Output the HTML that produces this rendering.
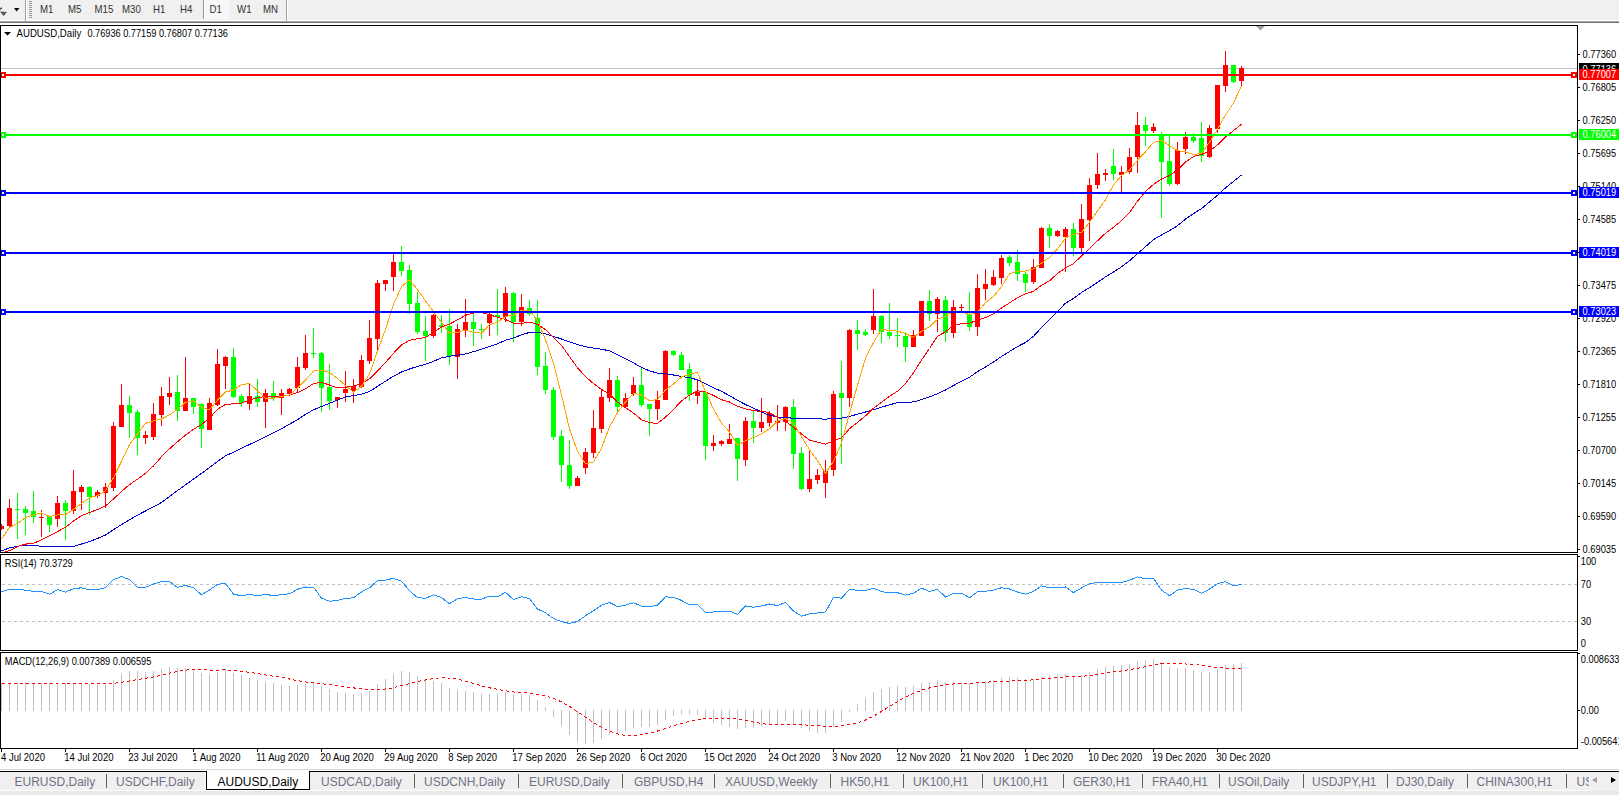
<!DOCTYPE html>
<html><head><meta charset="utf-8"><style>
html,body{margin:0;padding:0;background:#fff;width:1619px;height:795px;overflow:hidden}
svg{display:block}
text{font-family:"Liberation Sans",sans-serif}
</style></head><body>
<svg width="1619" height="795" viewBox="0 0 1619 795">
<rect x="0" y="0" width="1619" height="795" fill="#fff"/>
<rect x="0" y="0" width="1619" height="21" fill="#f0f0f0"/>
<rect x="0" y="21" width="1619" height="1" fill="#a8a8a8"/>
<rect x="0" y="22" width="1619" height="1" fill="#707070"/>
<rect x="0" y="23" width="1619" height="2" fill="#ffffff"/>
<path d="M0 8.5 L1.5 7 L2 8.5 L0.5 10Z" fill="#333"/>
<path d="M0 11.5 L7 12 L3.5 16Z" fill="#555"/>
<path d="M14 8 L19.5 8 L16.5 11.5Z" fill="#000"/>
<rect x="0" y="20" width="1619" height="1" fill="#ffffff"/>
<rect x="25" y="0" width="1" height="21" fill="#a0a0a0"/>
<rect x="26" y="0" width="1" height="21" fill="#ffffff"/>
<rect x="29" y="1" width="3" height="1" fill="#9a9a9a"/>
<rect x="29" y="3" width="3" height="1" fill="#9a9a9a"/>
<rect x="29" y="5" width="3" height="1" fill="#9a9a9a"/>
<rect x="29" y="7" width="3" height="1" fill="#9a9a9a"/>
<rect x="29" y="9" width="3" height="1" fill="#9a9a9a"/>
<rect x="29" y="11" width="3" height="1" fill="#9a9a9a"/>
<rect x="29" y="13" width="3" height="1" fill="#9a9a9a"/>
<rect x="29" y="15" width="3" height="1" fill="#9a9a9a"/>
<rect x="29" y="17" width="3" height="1" fill="#9a9a9a"/>
<rect x="203" y="0" width="26" height="19" fill="#f8f8f8"/>
<rect x="203" y="0" width="1" height="19" fill="#999999"/>
<rect x="286" y="0" width="1" height="21" fill="#a0a0a0"/>
<rect x="287" y="0" width="1" height="21" fill="#ffffff"/>
<text transform="translate(40,13) scale(0.94,1)" font-size="10.3" fill="#333" font-weight="normal" text-anchor="start">M1</text>
<text transform="translate(68,13) scale(0.94,1)" font-size="10.3" fill="#333" font-weight="normal" text-anchor="start">M5</text>
<text transform="translate(94.5,13) scale(0.94,1)" font-size="10.3" fill="#333" font-weight="normal" text-anchor="start">M15</text>
<text transform="translate(122,13) scale(0.94,1)" font-size="10.3" fill="#333" font-weight="normal" text-anchor="start">M30</text>
<text transform="translate(153,13) scale(0.94,1)" font-size="10.3" fill="#333" font-weight="normal" text-anchor="start">H1</text>
<text transform="translate(180,13) scale(0.94,1)" font-size="10.3" fill="#333" font-weight="normal" text-anchor="start">H4</text>
<text transform="translate(209.5,13) scale(0.94,1)" font-size="10.3" fill="#333" font-weight="normal" text-anchor="start">D1</text>
<text transform="translate(237,13) scale(0.94,1)" font-size="10.3" fill="#333" font-weight="normal" text-anchor="start">W1</text>
<text transform="translate(263,13) scale(0.94,1)" font-size="10.3" fill="#333" font-weight="normal" text-anchor="start">MN</text>
<rect x="0" y="25" width="1578" height="1" fill="#000"/>
<rect x="0" y="25" width="1" height="528" fill="#000"/>
<rect x="1577" y="25" width="1" height="528" fill="#000"/>
<rect x="0" y="552" width="1578" height="1" fill="#000"/>
<rect x="0" y="554" width="1578" height="1" fill="#000"/>
<rect x="0" y="554" width="1" height="97" fill="#000"/>
<rect x="1577" y="554" width="1" height="97" fill="#000"/>
<rect x="0" y="650" width="1578" height="1" fill="#000"/>
<rect x="0" y="652" width="1578" height="1" fill="#000"/>
<rect x="0" y="652" width="1" height="97" fill="#000"/>
<rect x="1577" y="652" width="1" height="97" fill="#000"/>
<rect x="0" y="748" width="1578" height="1" fill="#000"/>
<path d="M1256 26 L1265 26 L1260.5 30.5Z" fill="#a0a0a0"/>
<path d="M4 32 L11 32 L7.5 35.5Z" fill="#000"/>
<text transform="translate(16.5,37) scale(0.935,1)" font-size="10.3" fill="#000" font-weight="normal" text-anchor="start">AUDUSD,Daily</text>
<text transform="translate(87.4,37) scale(0.894,1)" font-size="10.3" fill="#000" font-weight="normal" text-anchor="start">0.76936 0.77159 0.76807 0.77136</text>
<rect x="1578" y="54" width="2" height="1" fill="#000"/>
<text transform="translate(1582.6,58) scale(0.91,1)" font-size="10.2" fill="#000" font-weight="normal" text-anchor="start">0.77360</text>
<rect x="1578" y="87" width="2" height="1" fill="#000"/>
<text transform="translate(1582.6,91) scale(0.91,1)" font-size="10.2" fill="#000" font-weight="normal" text-anchor="start">0.76805</text>
<rect x="1578" y="120" width="2" height="1" fill="#000"/>
<text transform="translate(1582.6,124) scale(0.91,1)" font-size="10.2" fill="#000" font-weight="normal" text-anchor="start">0.76250</text>
<rect x="1578" y="153" width="2" height="1" fill="#000"/>
<text transform="translate(1582.6,157) scale(0.91,1)" font-size="10.2" fill="#000" font-weight="normal" text-anchor="start">0.75695</text>
<rect x="1578" y="186" width="2" height="1" fill="#000"/>
<text transform="translate(1582.6,190) scale(0.91,1)" font-size="10.2" fill="#000" font-weight="normal" text-anchor="start">0.75140</text>
<rect x="1578" y="219" width="2" height="1" fill="#000"/>
<text transform="translate(1582.6,223) scale(0.91,1)" font-size="10.2" fill="#000" font-weight="normal" text-anchor="start">0.74585</text>
<rect x="1578" y="252" width="2" height="1" fill="#000"/>
<text transform="translate(1582.6,256) scale(0.91,1)" font-size="10.2" fill="#000" font-weight="normal" text-anchor="start">0.74030</text>
<rect x="1578" y="285" width="2" height="1" fill="#000"/>
<text transform="translate(1582.6,289) scale(0.91,1)" font-size="10.2" fill="#000" font-weight="normal" text-anchor="start">0.73475</text>
<rect x="1578" y="318" width="2" height="1" fill="#000"/>
<text transform="translate(1582.6,322) scale(0.91,1)" font-size="10.2" fill="#000" font-weight="normal" text-anchor="start">0.72920</text>
<rect x="1578" y="351" width="2" height="1" fill="#000"/>
<text transform="translate(1582.6,355) scale(0.91,1)" font-size="10.2" fill="#000" font-weight="normal" text-anchor="start">0.72365</text>
<rect x="1578" y="384" width="2" height="1" fill="#000"/>
<text transform="translate(1582.6,388) scale(0.91,1)" font-size="10.2" fill="#000" font-weight="normal" text-anchor="start">0.71810</text>
<rect x="1578" y="417" width="2" height="1" fill="#000"/>
<text transform="translate(1582.6,421) scale(0.91,1)" font-size="10.2" fill="#000" font-weight="normal" text-anchor="start">0.71255</text>
<rect x="1578" y="450" width="2" height="1" fill="#000"/>
<text transform="translate(1582.6,454) scale(0.91,1)" font-size="10.2" fill="#000" font-weight="normal" text-anchor="start">0.70700</text>
<rect x="1578" y="483" width="2" height="1" fill="#000"/>
<text transform="translate(1582.6,487) scale(0.91,1)" font-size="10.2" fill="#000" font-weight="normal" text-anchor="start">0.70145</text>
<rect x="1578" y="516" width="2" height="1" fill="#000"/>
<text transform="translate(1582.6,520) scale(0.91,1)" font-size="10.2" fill="#000" font-weight="normal" text-anchor="start">0.69590</text>
<rect x="1578" y="549" width="2" height="1" fill="#000"/>
<text transform="translate(1582.6,553) scale(0.91,1)" font-size="10.2" fill="#000" font-weight="normal" text-anchor="start">0.69035</text>
<defs><clipPath id="cm"><rect x="1" y="26" width="1576" height="526"/></clipPath><clipPath id="cr"><rect x="1" y="555" width="1576" height="95"/></clipPath><clipPath id="cd"><rect x="1" y="653" width="1576" height="95"/></clipPath></defs>
<g clip-path="url(#cm)" shape-rendering="crispEdges">
<rect x="1" y="68" width="1576" height="1" fill="#c0c0c0"/>
</g><g clip-path="url(#cm)" shape-rendering="crispEdges">
<rect x="1" y="524" width="1" height="6" fill="#ff0000"/>
<rect x="-1" y="526" width="5" height="3" fill="#ff0000"/>
<rect x="9" y="499" width="1" height="29" fill="#ff0000"/>
<rect x="7" y="508" width="5" height="18" fill="#ff0000"/>
<rect x="17" y="493" width="1" height="46" fill="#00ff00"/>
<rect x="15" y="509" width="5" height="1" fill="#00ff00"/>
<rect x="25" y="506" width="1" height="29" fill="#00ff00"/>
<rect x="23" y="509" width="5" height="4" fill="#00ff00"/>
<rect x="33" y="491" width="1" height="32" fill="#00ff00"/>
<rect x="31" y="511" width="5" height="6" fill="#00ff00"/>
<rect x="41" y="510" width="1" height="27" fill="#ff0000"/>
<rect x="39" y="517" width="5" height="1" fill="#ff0000"/>
<rect x="49" y="516" width="1" height="16" fill="#00ff00"/>
<rect x="47" y="516" width="5" height="9" fill="#00ff00"/>
<rect x="57" y="496" width="1" height="31" fill="#ff0000"/>
<rect x="55" y="503" width="5" height="16" fill="#ff0000"/>
<rect x="65" y="500" width="1" height="40" fill="#00ff00"/>
<rect x="63" y="503" width="5" height="8" fill="#00ff00"/>
<rect x="73" y="470" width="1" height="44" fill="#ff0000"/>
<rect x="71" y="491" width="5" height="20" fill="#ff0000"/>
<rect x="81" y="485" width="1" height="25" fill="#ff0000"/>
<rect x="79" y="487" width="5" height="5" fill="#ff0000"/>
<rect x="89" y="486" width="1" height="29" fill="#00ff00"/>
<rect x="87" y="487" width="5" height="10" fill="#00ff00"/>
<rect x="97" y="490" width="1" height="8" fill="#ff0000"/>
<rect x="95" y="492" width="5" height="4" fill="#ff0000"/>
<rect x="105" y="483" width="1" height="25" fill="#ff0000"/>
<rect x="103" y="487" width="5" height="6" fill="#ff0000"/>
<rect x="113" y="422" width="1" height="69" fill="#ff0000"/>
<rect x="111" y="426" width="5" height="62" fill="#ff0000"/>
<rect x="121" y="384" width="1" height="43" fill="#ff0000"/>
<rect x="119" y="405" width="5" height="22" fill="#ff0000"/>
<rect x="129" y="396" width="1" height="42" fill="#00ff00"/>
<rect x="127" y="405" width="5" height="8" fill="#00ff00"/>
<rect x="137" y="410" width="1" height="45" fill="#00ff00"/>
<rect x="135" y="412" width="5" height="26" fill="#00ff00"/>
<rect x="145" y="431" width="1" height="13" fill="#ff0000"/>
<rect x="143" y="435" width="5" height="3" fill="#ff0000"/>
<rect x="153" y="403" width="1" height="37" fill="#ff0000"/>
<rect x="151" y="414" width="5" height="23" fill="#ff0000"/>
<rect x="161" y="387" width="1" height="39" fill="#ff0000"/>
<rect x="159" y="396" width="5" height="19" fill="#ff0000"/>
<rect x="169" y="377" width="1" height="28" fill="#ff0000"/>
<rect x="167" y="393" width="5" height="4" fill="#ff0000"/>
<rect x="177" y="375" width="1" height="46" fill="#00ff00"/>
<rect x="175" y="392" width="5" height="19" fill="#00ff00"/>
<rect x="185" y="357" width="1" height="54" fill="#ff0000"/>
<rect x="183" y="398" width="5" height="13" fill="#ff0000"/>
<rect x="193" y="398" width="1" height="16" fill="#00ff00"/>
<rect x="191" y="398" width="5" height="9" fill="#00ff00"/>
<rect x="201" y="403" width="1" height="45" fill="#00ff00"/>
<rect x="199" y="404" width="5" height="25" fill="#00ff00"/>
<rect x="209" y="398" width="1" height="32" fill="#ff0000"/>
<rect x="207" y="403" width="5" height="27" fill="#ff0000"/>
<rect x="217" y="349" width="1" height="57" fill="#ff0000"/>
<rect x="215" y="364" width="5" height="41" fill="#ff0000"/>
<rect x="225" y="356" width="1" height="33" fill="#ff0000"/>
<rect x="223" y="357" width="5" height="9" fill="#ff0000"/>
<rect x="233" y="348" width="1" height="50" fill="#00ff00"/>
<rect x="231" y="357" width="5" height="40" fill="#00ff00"/>
<rect x="241" y="394" width="1" height="13" fill="#00ff00"/>
<rect x="239" y="396" width="5" height="7" fill="#00ff00"/>
<rect x="249" y="383" width="1" height="27" fill="#ff0000"/>
<rect x="247" y="396" width="5" height="8" fill="#ff0000"/>
<rect x="257" y="379" width="1" height="28" fill="#00ff00"/>
<rect x="255" y="396" width="5" height="6" fill="#00ff00"/>
<rect x="265" y="389" width="1" height="39" fill="#ff0000"/>
<rect x="263" y="393" width="5" height="9" fill="#ff0000"/>
<rect x="273" y="381" width="1" height="20" fill="#00ff00"/>
<rect x="271" y="393" width="5" height="5" fill="#00ff00"/>
<rect x="281" y="389" width="1" height="26" fill="#ff0000"/>
<rect x="279" y="393" width="5" height="5" fill="#ff0000"/>
<rect x="289" y="388" width="1" height="8" fill="#ff0000"/>
<rect x="287" y="389" width="5" height="5" fill="#ff0000"/>
<rect x="297" y="357" width="1" height="35" fill="#ff0000"/>
<rect x="295" y="367" width="5" height="21" fill="#ff0000"/>
<rect x="305" y="335" width="1" height="35" fill="#ff0000"/>
<rect x="303" y="353" width="5" height="15" fill="#ff0000"/>
<rect x="313" y="328" width="1" height="30" fill="#00ff00"/>
<rect x="311" y="353" width="5" height="1" fill="#00ff00"/>
<rect x="321" y="352" width="1" height="60" fill="#00ff00"/>
<rect x="319" y="353" width="5" height="35" fill="#00ff00"/>
<rect x="329" y="364" width="1" height="46" fill="#00ff00"/>
<rect x="327" y="387" width="5" height="14" fill="#00ff00"/>
<rect x="337" y="397" width="1" height="11" fill="#ff0000"/>
<rect x="335" y="397" width="5" height="3" fill="#ff0000"/>
<rect x="345" y="371" width="1" height="31" fill="#ff0000"/>
<rect x="343" y="389" width="5" height="4" fill="#ff0000"/>
<rect x="353" y="379" width="1" height="24" fill="#ff0000"/>
<rect x="351" y="386" width="5" height="5" fill="#ff0000"/>
<rect x="361" y="355" width="1" height="33" fill="#ff0000"/>
<rect x="359" y="360" width="5" height="27" fill="#ff0000"/>
<rect x="369" y="320" width="1" height="44" fill="#ff0000"/>
<rect x="367" y="338" width="5" height="23" fill="#ff0000"/>
<rect x="377" y="280" width="1" height="70" fill="#ff0000"/>
<rect x="375" y="283" width="5" height="56" fill="#ff0000"/>
<rect x="385" y="280" width="1" height="11" fill="#ff0000"/>
<rect x="383" y="280" width="5" height="4" fill="#ff0000"/>
<rect x="393" y="254" width="1" height="37" fill="#ff0000"/>
<rect x="391" y="262" width="5" height="15" fill="#ff0000"/>
<rect x="401" y="246" width="1" height="30" fill="#00ff00"/>
<rect x="399" y="262" width="5" height="9" fill="#00ff00"/>
<rect x="409" y="265" width="1" height="49" fill="#00ff00"/>
<rect x="407" y="270" width="5" height="34" fill="#00ff00"/>
<rect x="417" y="292" width="1" height="42" fill="#00ff00"/>
<rect x="415" y="303" width="5" height="29" fill="#00ff00"/>
<rect x="425" y="316" width="1" height="45" fill="#00ff00"/>
<rect x="423" y="331" width="5" height="5" fill="#00ff00"/>
<rect x="433" y="314" width="1" height="24" fill="#ff0000"/>
<rect x="431" y="315" width="5" height="21" fill="#ff0000"/>
<rect x="441" y="315" width="1" height="18" fill="#00ff00"/>
<rect x="439" y="325" width="5" height="2" fill="#00ff00"/>
<rect x="449" y="309" width="1" height="56" fill="#00ff00"/>
<rect x="447" y="326" width="5" height="30" fill="#00ff00"/>
<rect x="457" y="324" width="1" height="55" fill="#ff0000"/>
<rect x="455" y="329" width="5" height="28" fill="#ff0000"/>
<rect x="465" y="299" width="1" height="38" fill="#ff0000"/>
<rect x="463" y="322" width="5" height="8" fill="#ff0000"/>
<rect x="473" y="314" width="1" height="32" fill="#00ff00"/>
<rect x="471" y="322" width="5" height="7" fill="#00ff00"/>
<rect x="481" y="324" width="1" height="15" fill="#00ff00"/>
<rect x="479" y="329" width="5" height="1" fill="#00ff00"/>
<rect x="489" y="312" width="1" height="24" fill="#ff0000"/>
<rect x="487" y="314" width="5" height="9" fill="#ff0000"/>
<rect x="497" y="289" width="1" height="46" fill="#00ff00"/>
<rect x="495" y="315" width="5" height="2" fill="#00ff00"/>
<rect x="505" y="287" width="1" height="35" fill="#ff0000"/>
<rect x="503" y="293" width="5" height="24" fill="#ff0000"/>
<rect x="513" y="292" width="1" height="50" fill="#00ff00"/>
<rect x="511" y="293" width="5" height="29" fill="#00ff00"/>
<rect x="521" y="294" width="1" height="32" fill="#ff0000"/>
<rect x="519" y="307" width="5" height="15" fill="#ff0000"/>
<rect x="529" y="300" width="1" height="16" fill="#00ff00"/>
<rect x="527" y="308" width="5" height="6" fill="#00ff00"/>
<rect x="537" y="300" width="1" height="75" fill="#00ff00"/>
<rect x="535" y="318" width="5" height="49" fill="#00ff00"/>
<rect x="545" y="352" width="1" height="42" fill="#00ff00"/>
<rect x="543" y="366" width="5" height="24" fill="#00ff00"/>
<rect x="553" y="387" width="1" height="53" fill="#00ff00"/>
<rect x="551" y="390" width="5" height="47" fill="#00ff00"/>
<rect x="561" y="430" width="1" height="52" fill="#00ff00"/>
<rect x="559" y="436" width="5" height="29" fill="#00ff00"/>
<rect x="569" y="440" width="1" height="49" fill="#00ff00"/>
<rect x="567" y="465" width="5" height="21" fill="#00ff00"/>
<rect x="577" y="476" width="1" height="10" fill="#ff0000"/>
<rect x="575" y="478" width="5" height="8" fill="#ff0000"/>
<rect x="585" y="448" width="1" height="26" fill="#ff0000"/>
<rect x="583" y="452" width="5" height="16" fill="#ff0000"/>
<rect x="593" y="410" width="1" height="48" fill="#ff0000"/>
<rect x="591" y="428" width="5" height="25" fill="#ff0000"/>
<rect x="601" y="390" width="1" height="43" fill="#ff0000"/>
<rect x="599" y="397" width="5" height="32" fill="#ff0000"/>
<rect x="609" y="368" width="1" height="34" fill="#ff0000"/>
<rect x="607" y="380" width="5" height="18" fill="#ff0000"/>
<rect x="617" y="376" width="1" height="38" fill="#00ff00"/>
<rect x="615" y="380" width="5" height="27" fill="#00ff00"/>
<rect x="625" y="393" width="1" height="14" fill="#ff0000"/>
<rect x="623" y="398" width="5" height="9" fill="#ff0000"/>
<rect x="633" y="377" width="1" height="19" fill="#ff0000"/>
<rect x="631" y="385" width="5" height="9" fill="#ff0000"/>
<rect x="641" y="367" width="1" height="40" fill="#00ff00"/>
<rect x="639" y="385" width="5" height="20" fill="#00ff00"/>
<rect x="649" y="404" width="1" height="32" fill="#00ff00"/>
<rect x="647" y="404" width="5" height="5" fill="#00ff00"/>
<rect x="657" y="391" width="1" height="29" fill="#ff0000"/>
<rect x="655" y="400" width="5" height="9" fill="#ff0000"/>
<rect x="665" y="350" width="1" height="50" fill="#ff0000"/>
<rect x="663" y="351" width="5" height="49" fill="#ff0000"/>
<rect x="673" y="350" width="1" height="6" fill="#00ff00"/>
<rect x="671" y="351" width="5" height="4" fill="#00ff00"/>
<rect x="681" y="352" width="1" height="18" fill="#00ff00"/>
<rect x="679" y="355" width="5" height="15" fill="#00ff00"/>
<rect x="689" y="363" width="1" height="38" fill="#00ff00"/>
<rect x="687" y="369" width="5" height="26" fill="#00ff00"/>
<rect x="697" y="380" width="1" height="24" fill="#ff0000"/>
<rect x="695" y="392" width="5" height="4" fill="#ff0000"/>
<rect x="705" y="390" width="1" height="70" fill="#00ff00"/>
<rect x="703" y="392" width="5" height="54" fill="#00ff00"/>
<rect x="713" y="435" width="1" height="16" fill="#ff0000"/>
<rect x="711" y="443" width="5" height="3" fill="#ff0000"/>
<rect x="721" y="440" width="1" height="6" fill="#ff0000"/>
<rect x="719" y="441" width="5" height="3" fill="#ff0000"/>
<rect x="729" y="424" width="1" height="20" fill="#ff0000"/>
<rect x="727" y="439" width="5" height="5" fill="#ff0000"/>
<rect x="737" y="438" width="1" height="43" fill="#00ff00"/>
<rect x="735" y="438" width="5" height="21" fill="#00ff00"/>
<rect x="745" y="417" width="1" height="49" fill="#ff0000"/>
<rect x="743" y="421" width="5" height="39" fill="#ff0000"/>
<rect x="753" y="411" width="1" height="32" fill="#00ff00"/>
<rect x="751" y="421" width="5" height="7" fill="#00ff00"/>
<rect x="761" y="398" width="1" height="34" fill="#ff0000"/>
<rect x="759" y="422" width="5" height="6" fill="#ff0000"/>
<rect x="769" y="411" width="1" height="16" fill="#ff0000"/>
<rect x="767" y="413" width="5" height="10" fill="#ff0000"/>
<rect x="777" y="405" width="1" height="26" fill="#ff0000"/>
<rect x="775" y="421" width="5" height="2" fill="#ff0000"/>
<rect x="785" y="406" width="1" height="25" fill="#ff0000"/>
<rect x="783" y="407" width="5" height="15" fill="#ff0000"/>
<rect x="793" y="399" width="1" height="70" fill="#00ff00"/>
<rect x="791" y="407" width="5" height="47" fill="#00ff00"/>
<rect x="801" y="447" width="1" height="43" fill="#00ff00"/>
<rect x="799" y="453" width="5" height="36" fill="#00ff00"/>
<rect x="809" y="450" width="1" height="42" fill="#ff0000"/>
<rect x="807" y="479" width="5" height="10" fill="#ff0000"/>
<rect x="817" y="469" width="1" height="15" fill="#ff0000"/>
<rect x="815" y="475" width="5" height="5" fill="#ff0000"/>
<rect x="825" y="460" width="1" height="38" fill="#ff0000"/>
<rect x="823" y="471" width="5" height="12" fill="#ff0000"/>
<rect x="833" y="391" width="1" height="85" fill="#ff0000"/>
<rect x="831" y="394" width="5" height="76" fill="#ff0000"/>
<rect x="841" y="361" width="1" height="103" fill="#00ff00"/>
<rect x="839" y="393" width="5" height="5" fill="#00ff00"/>
<rect x="849" y="329" width="1" height="78" fill="#ff0000"/>
<rect x="847" y="330" width="5" height="68" fill="#ff0000"/>
<rect x="857" y="320" width="1" height="30" fill="#00ff00"/>
<rect x="855" y="330" width="5" height="4" fill="#00ff00"/>
<rect x="865" y="329" width="1" height="7" fill="#00ff00"/>
<rect x="863" y="332" width="5" height="3" fill="#00ff00"/>
<rect x="873" y="289" width="1" height="45" fill="#ff0000"/>
<rect x="871" y="316" width="5" height="14" fill="#ff0000"/>
<rect x="881" y="315" width="1" height="28" fill="#00ff00"/>
<rect x="879" y="316" width="5" height="16" fill="#00ff00"/>
<rect x="889" y="303" width="1" height="36" fill="#00ff00"/>
<rect x="887" y="332" width="5" height="4" fill="#00ff00"/>
<rect x="897" y="318" width="1" height="29" fill="#00ff00"/>
<rect x="895" y="335" width="5" height="1" fill="#00ff00"/>
<rect x="905" y="332" width="1" height="30" fill="#00ff00"/>
<rect x="903" y="336" width="5" height="11" fill="#00ff00"/>
<rect x="913" y="330" width="1" height="16" fill="#ff0000"/>
<rect x="911" y="335" width="5" height="12" fill="#ff0000"/>
<rect x="921" y="301" width="1" height="35" fill="#ff0000"/>
<rect x="919" y="301" width="5" height="35" fill="#ff0000"/>
<rect x="929" y="290" width="1" height="31" fill="#00ff00"/>
<rect x="927" y="301" width="5" height="13" fill="#00ff00"/>
<rect x="937" y="297" width="1" height="35" fill="#ff0000"/>
<rect x="935" y="299" width="5" height="15" fill="#ff0000"/>
<rect x="945" y="296" width="1" height="46" fill="#00ff00"/>
<rect x="943" y="300" width="5" height="33" fill="#00ff00"/>
<rect x="953" y="300" width="1" height="38" fill="#ff0000"/>
<rect x="951" y="307" width="5" height="26" fill="#ff0000"/>
<rect x="961" y="304" width="1" height="7" fill="#ff0000"/>
<rect x="959" y="307" width="5" height="1" fill="#ff0000"/>
<rect x="969" y="292" width="1" height="39" fill="#00ff00"/>
<rect x="967" y="314" width="5" height="13" fill="#00ff00"/>
<rect x="977" y="274" width="1" height="62" fill="#ff0000"/>
<rect x="975" y="288" width="5" height="39" fill="#ff0000"/>
<rect x="985" y="269" width="1" height="31" fill="#ff0000"/>
<rect x="983" y="284" width="5" height="5" fill="#ff0000"/>
<rect x="993" y="270" width="1" height="16" fill="#ff0000"/>
<rect x="991" y="277" width="5" height="8" fill="#ff0000"/>
<rect x="1001" y="255" width="1" height="29" fill="#ff0000"/>
<rect x="999" y="258" width="5" height="20" fill="#ff0000"/>
<rect x="1009" y="255" width="1" height="11" fill="#00ff00"/>
<rect x="1007" y="257" width="5" height="6" fill="#00ff00"/>
<rect x="1017" y="250" width="1" height="31" fill="#00ff00"/>
<rect x="1015" y="262" width="5" height="12" fill="#00ff00"/>
<rect x="1025" y="272" width="1" height="20" fill="#00ff00"/>
<rect x="1023" y="274" width="5" height="9" fill="#00ff00"/>
<rect x="1033" y="259" width="1" height="25" fill="#ff0000"/>
<rect x="1031" y="267" width="5" height="15" fill="#ff0000"/>
<rect x="1041" y="227" width="1" height="40" fill="#ff0000"/>
<rect x="1039" y="228" width="5" height="40" fill="#ff0000"/>
<rect x="1049" y="224" width="1" height="24" fill="#00ff00"/>
<rect x="1047" y="228" width="5" height="8" fill="#00ff00"/>
<rect x="1057" y="230" width="1" height="7" fill="#ff0000"/>
<rect x="1055" y="231" width="5" height="5" fill="#ff0000"/>
<rect x="1065" y="227" width="1" height="45" fill="#ff0000"/>
<rect x="1063" y="229" width="5" height="8" fill="#ff0000"/>
<rect x="1073" y="223" width="1" height="33" fill="#00ff00"/>
<rect x="1071" y="229" width="5" height="19" fill="#00ff00"/>
<rect x="1081" y="204" width="1" height="48" fill="#ff0000"/>
<rect x="1079" y="219" width="5" height="29" fill="#ff0000"/>
<rect x="1089" y="178" width="1" height="63" fill="#ff0000"/>
<rect x="1087" y="185" width="5" height="35" fill="#ff0000"/>
<rect x="1097" y="153" width="1" height="36" fill="#ff0000"/>
<rect x="1095" y="174" width="5" height="11" fill="#ff0000"/>
<rect x="1105" y="169" width="1" height="12" fill="#ff0000"/>
<rect x="1103" y="173" width="5" height="2" fill="#ff0000"/>
<rect x="1113" y="149" width="1" height="31" fill="#00ff00"/>
<rect x="1111" y="166" width="5" height="8" fill="#00ff00"/>
<rect x="1121" y="166" width="1" height="26" fill="#ff0000"/>
<rect x="1119" y="172" width="5" height="3" fill="#ff0000"/>
<rect x="1129" y="148" width="1" height="26" fill="#ff0000"/>
<rect x="1127" y="157" width="5" height="15" fill="#ff0000"/>
<rect x="1137" y="112" width="1" height="61" fill="#ff0000"/>
<rect x="1135" y="125" width="5" height="32" fill="#ff0000"/>
<rect x="1145" y="117" width="1" height="29" fill="#00ff00"/>
<rect x="1143" y="125" width="5" height="6" fill="#00ff00"/>
<rect x="1153" y="123" width="1" height="10" fill="#ff0000"/>
<rect x="1151" y="127" width="5" height="4" fill="#ff0000"/>
<rect x="1161" y="132" width="1" height="86" fill="#00ff00"/>
<rect x="1159" y="136" width="5" height="26" fill="#00ff00"/>
<rect x="1169" y="135" width="1" height="51" fill="#00ff00"/>
<rect x="1167" y="161" width="5" height="23" fill="#00ff00"/>
<rect x="1177" y="142" width="1" height="43" fill="#ff0000"/>
<rect x="1175" y="150" width="5" height="34" fill="#ff0000"/>
<rect x="1185" y="132" width="1" height="22" fill="#ff0000"/>
<rect x="1183" y="137" width="5" height="12" fill="#ff0000"/>
<rect x="1193" y="133" width="1" height="10" fill="#00ff00"/>
<rect x="1191" y="137" width="5" height="4" fill="#00ff00"/>
<rect x="1201" y="122" width="1" height="40" fill="#00ff00"/>
<rect x="1199" y="138" width="5" height="18" fill="#00ff00"/>
<rect x="1209" y="125" width="1" height="33" fill="#ff0000"/>
<rect x="1207" y="128" width="5" height="29" fill="#ff0000"/>
<rect x="1217" y="85" width="1" height="48" fill="#ff0000"/>
<rect x="1215" y="85" width="5" height="44" fill="#ff0000"/>
<rect x="1225" y="51" width="1" height="41" fill="#ff0000"/>
<rect x="1223" y="65" width="5" height="21" fill="#ff0000"/>
<rect x="1233" y="65" width="1" height="18" fill="#00ff00"/>
<rect x="1231" y="65" width="5" height="17" fill="#00ff00"/>
<rect x="1241" y="66" width="1" height="20" fill="#ff0000"/>
<rect x="1239" y="68" width="5" height="13" fill="#ff0000"/>
<polyline points="1.5,550.8 9.5,547.9 17.5,546.2 25.5,545.3 33.5,545.3 41.5,546.4 49.5,546.4 57.5,546.4 65.5,546.4 73.5,546.4 81.5,544.0 89.5,541.6 97.5,538.4 105.5,535.0 113.5,529.7 121.5,524.6 129.5,519.8 137.5,515.1 145.5,511.0 153.5,506.8 161.5,502.5 169.5,496.5 177.5,490.6 185.5,484.8 193.5,479.1 201.5,473.4 209.5,467.5 217.5,461.6 225.5,455.7 233.5,452.3 241.5,448.2 249.5,444.5 257.5,440.8 265.5,436.9 273.5,432.9 281.5,428.8 289.5,424.2 297.5,419.7 305.5,414.4 313.5,409.8 321.5,406.5 329.5,403.3 337.5,400.2 345.5,396.9 353.5,395.6 361.5,394.1 369.5,391.5 377.5,386.4 385.5,381.2 393.5,376.2 401.5,372.0 409.5,369.0 417.5,366.4 425.5,364.3 433.5,361.3 441.5,357.9 449.5,356.3 457.5,355.1 465.5,353.9 473.5,351.7 481.5,349.2 489.5,346.5 497.5,343.7 505.5,340.3 513.5,337.8 521.5,334.9 529.5,332.4 537.5,332.4 545.5,333.7 553.5,336.4 561.5,339.0 569.5,341.9 577.5,344.6 585.5,346.7 593.5,348.1 601.5,349.3 609.5,350.7 617.5,354.8 625.5,358.8 633.5,362.9 641.5,367.3 649.5,370.9 657.5,373.1 665.5,373.7 673.5,375.0 681.5,376.4 689.5,377.7 697.5,379.8 705.5,383.9 713.5,387.7 721.5,391.4 729.5,395.6 737.5,400.3 745.5,404.6 753.5,408.1 761.5,412.0 769.5,415.3 777.5,417.1 785.5,417.7 793.5,418.2 801.5,419.0 809.5,418.7 817.5,418.6 825.5,419.3 833.5,418.1 841.5,418.2 849.5,416.5 857.5,414.1 865.5,412.0 873.5,409.7 881.5,407.2 889.5,404.8 897.5,402.7 905.5,402.5 913.5,401.9 921.5,399.6 929.5,396.9 937.5,393.8 945.5,390.0 953.5,385.5 961.5,381.1 969.5,377.3 977.5,371.6 985.5,367.0 993.5,362.0 1001.5,356.5 1009.5,351.5 1017.5,346.6 1025.5,342.5 1033.5,336.3 1041.5,327.6 1049.5,319.5 1057.5,311.3 1065.5,303.2 1073.5,298.4 1081.5,292.4 1089.5,287.6 1097.5,282.3 1105.5,276.9 1113.5,272.1 1121.5,266.8 1129.5,260.8 1137.5,253.8 1145.5,246.6 1153.5,239.6 1161.5,235.0 1169.5,230.7 1177.5,225.7 1185.5,219.1 1193.5,213.6 1201.5,208.6 1209.5,201.9 1217.5,195.2 1225.5,187.9 1233.5,181.4 1241.5,175.0" fill="none" stroke="#0000cd" stroke-width="1"/>
<polyline points="1.5,553.0 9.5,550.7 17.5,546.6 25.5,544.1 33.5,543.4 41.5,539.7 49.5,535.8 57.5,531.6 65.5,527.3 73.5,521.0 81.5,515.6 89.5,512.5 97.5,509.5 105.5,506.0 113.5,498.9 121.5,491.5 129.5,484.6 137.5,479.2 145.5,473.3 153.5,465.9 161.5,456.7 169.5,448.8 177.5,441.7 185.5,435.1 193.5,429.3 201.5,424.5 209.5,418.1 217.5,409.3 225.5,404.4 233.5,403.8 241.5,403.1 249.5,400.1 257.5,397.8 265.5,396.3 273.5,396.5 281.5,396.5 289.5,394.9 297.5,392.7 305.5,388.8 313.5,383.5 321.5,382.4 329.5,385.0 337.5,387.9 345.5,387.3 353.5,386.1 361.5,383.5 369.5,378.9 377.5,371.0 385.5,362.6 393.5,353.3 401.5,344.8 409.5,340.3 417.5,338.8 425.5,337.5 433.5,332.3 441.5,327.0 449.5,324.1 457.5,319.8 465.5,315.3 473.5,313.0 481.5,312.5 489.5,314.7 497.5,317.3 505.5,319.5 513.5,323.2 521.5,323.4 529.5,322.1 537.5,324.3 545.5,329.7 553.5,337.6 561.5,345.4 569.5,356.6 577.5,367.8 585.5,376.6 593.5,383.6 601.5,389.5 609.5,394.0 617.5,402.2 625.5,407.6 633.5,413.2 641.5,419.7 649.5,422.7 657.5,423.4 665.5,417.2 673.5,409.4 681.5,401.0 689.5,395.1 697.5,390.8 705.5,392.1 713.5,395.4 721.5,399.7 729.5,402.0 737.5,406.3 745.5,408.9 753.5,410.6 761.5,411.5 769.5,412.5 777.5,417.4 785.5,421.2 793.5,427.2 801.5,433.9 809.5,440.1 817.5,442.2 825.5,444.2 833.5,440.8 841.5,437.9 849.5,428.7 857.5,422.4 865.5,415.8 873.5,408.2 881.5,402.4 889.5,396.3 897.5,391.3 905.5,383.7 913.5,372.7 921.5,360.0 929.5,348.5 937.5,336.2 945.5,331.9 953.5,325.4 961.5,323.8 969.5,323.3 977.5,319.9 985.5,317.6 993.5,313.7 1001.5,308.1 1009.5,302.8 1017.5,297.7 1025.5,293.9 1033.5,291.4 1041.5,285.3 1049.5,280.8 1057.5,273.5 1065.5,267.9 1073.5,263.7 1081.5,255.9 1089.5,248.6 1097.5,240.8 1105.5,233.3 1113.5,227.3 1121.5,220.8 1129.5,212.5 1137.5,201.2 1145.5,191.5 1153.5,184.3 1161.5,179.0 1169.5,175.6 1177.5,170.0 1185.5,162.1 1193.5,156.5 1201.5,154.4 1209.5,151.1 1217.5,144.8 1225.5,137.0 1233.5,130.6 1241.5,124.2" fill="none" stroke="#ff0000" stroke-width="1"/>
<polyline points="1.5,539.0 9.5,527.5 17.5,523.4 25.5,517.4 33.5,514.8 41.5,513.0 49.5,516.4 57.5,514.9 65.5,514.6 73.5,509.4 81.5,503.4 89.5,497.8 97.5,495.6 105.5,490.8 113.5,477.8 121.5,461.4 129.5,444.6 137.5,433.8 145.5,423.3 153.5,420.9 161.5,419.0 169.5,414.9 177.5,409.5 185.5,402.2 193.5,400.9 201.5,407.5 209.5,409.6 217.5,400.2 225.5,392.0 233.5,390.0 241.5,384.8 249.5,383.4 257.5,391.0 265.5,398.2 273.5,398.4 281.5,396.4 289.5,395.0 297.5,387.9 305.5,379.9 313.5,371.1 321.5,370.1 329.5,372.5 337.5,378.5 345.5,385.6 353.5,392.0 361.5,386.4 369.5,373.9 377.5,351.1 385.5,329.3 393.5,304.5 401.5,286.7 409.5,279.9 417.5,289.7 425.5,300.8 433.5,311.4 441.5,322.6 449.5,333.1 457.5,332.5 465.5,329.8 473.5,332.6 481.5,333.1 489.5,324.7 497.5,322.3 505.5,316.5 513.5,315.1 521.5,310.5 529.5,310.5 537.5,320.5 545.5,340.0 553.5,363.0 561.5,394.7 569.5,429.2 577.5,451.4 585.5,463.7 593.5,461.9 601.5,448.2 609.5,426.9 617.5,412.7 625.5,401.9 633.5,393.3 641.5,395.0 649.5,400.8 657.5,399.4 665.5,390.1 673.5,384.0 681.5,377.0 689.5,374.2 697.5,372.5 705.5,391.4 713.5,409.0 721.5,423.2 729.5,432.0 737.5,445.4 745.5,440.5 753.5,437.6 761.5,433.9 769.5,428.8 777.5,421.2 785.5,418.4 793.5,423.4 801.5,436.6 809.5,449.8 817.5,460.6 825.5,473.4 833.5,461.4 841.5,443.3 849.5,413.4 857.5,385.3 865.5,358.1 873.5,342.5 881.5,329.3 889.5,330.6 897.5,331.1 905.5,333.5 913.5,337.4 921.5,331.2 929.5,326.8 937.5,319.3 945.5,316.5 953.5,310.8 961.5,312.0 969.5,314.6 977.5,312.4 985.5,302.5 993.5,296.5 1001.5,286.7 1009.5,273.9 1017.5,271.2 1025.5,271.0 1033.5,268.9 1041.5,262.9 1049.5,257.5 1057.5,248.8 1065.5,238.0 1073.5,234.2 1081.5,232.4 1089.5,222.3 1097.5,210.9 1105.5,199.7 1113.5,184.9 1121.5,175.5 1129.5,170.0 1137.5,160.2 1145.5,151.8 1153.5,142.4 1161.5,140.4 1169.5,145.6 1177.5,150.6 1185.5,151.9 1193.5,154.6 1201.5,153.3 1209.5,142.2 1217.5,129.3 1225.5,114.9 1233.5,103.1 1241.5,85.6" fill="none" stroke="#ffa500" stroke-width="1"/>
<rect x="1" y="74" width="1576" height="2" fill="#ff0000"/>
<rect x="0" y="72" width="6" height="6" fill="#ff0000"/>
<rect x="2" y="74" width="2" height="2" fill="#ffffff"/>
<rect x="1571" y="72" width="6" height="6" fill="#ff0000"/>
<rect x="1573" y="74" width="2" height="2" fill="#ffffff"/>
<rect x="1" y="134" width="1576" height="2" fill="#00ff00"/>
<rect x="0" y="132" width="6" height="6" fill="#00ff00"/>
<rect x="2" y="134" width="2" height="2" fill="#ffffff"/>
<rect x="1571" y="132" width="6" height="6" fill="#00ff00"/>
<rect x="1573" y="134" width="2" height="2" fill="#ffffff"/>
<rect x="1" y="192" width="1576" height="2" fill="#0000ff"/>
<rect x="0" y="190" width="6" height="6" fill="#0000ff"/>
<rect x="2" y="192" width="2" height="2" fill="#ffffff"/>
<rect x="1571" y="190" width="6" height="6" fill="#0000ff"/>
<rect x="1573" y="192" width="2" height="2" fill="#ffffff"/>
<rect x="1" y="252" width="1576" height="2" fill="#0000ff"/>
<rect x="0" y="250" width="6" height="6" fill="#0000ff"/>
<rect x="2" y="252" width="2" height="2" fill="#ffffff"/>
<rect x="1571" y="250" width="6" height="6" fill="#0000ff"/>
<rect x="1573" y="252" width="2" height="2" fill="#ffffff"/>
<rect x="1" y="311" width="1576" height="2" fill="#0000ff"/>
<rect x="0" y="309" width="6" height="6" fill="#0000ff"/>
<rect x="2" y="311" width="2" height="2" fill="#ffffff"/>
<rect x="1571" y="309" width="6" height="6" fill="#0000ff"/>
<rect x="1573" y="311" width="2" height="2" fill="#ffffff"/>
</g>
<rect x="1579" y="63" width="40" height="11" fill="#000"/>
<text transform="translate(1582.6,73) scale(0.91,1)" font-size="10.2" fill="#fff" font-weight="normal" text-anchor="start">0.77136</text>
<rect x="1579" y="69" width="40" height="11" fill="#ff0000"/>
<text transform="translate(1582.6,78) scale(0.91,1)" font-size="10.2" fill="#fff" font-weight="normal" text-anchor="start">0.77007</text>
<rect x="1579" y="129" width="40" height="11" fill="#00ff00"/>
<text transform="translate(1582.6,138) scale(0.91,1)" font-size="10.2" fill="#fff" font-weight="normal" text-anchor="start">0.76004</text>
<rect x="1579" y="187" width="40" height="11" fill="#0000ff"/>
<text transform="translate(1582.6,196) scale(0.91,1)" font-size="10.2" fill="#fff" font-weight="normal" text-anchor="start">0.75019</text>
<rect x="1579" y="247" width="40" height="11" fill="#0000ff"/>
<text transform="translate(1582.6,256) scale(0.91,1)" font-size="10.2" fill="#fff" font-weight="normal" text-anchor="start">0.74019</text>
<rect x="1579" y="306" width="40" height="11" fill="#0000ff"/>
<text transform="translate(1582.6,315) scale(0.91,1)" font-size="10.2" fill="#fff" font-weight="normal" text-anchor="start">0.73023</text>
<text transform="translate(4.8,567) scale(0.9,1)" font-size="10.3" fill="#000" font-weight="normal" text-anchor="start">RSI(14) 70.3729</text>
<g shape-rendering="crispEdges">
<rect x="2" y="584" width="3" height="1" fill="#c0c0c0"/>
<rect x="8" y="584" width="3" height="1" fill="#c0c0c0"/>
<rect x="14" y="584" width="3" height="1" fill="#c0c0c0"/>
<rect x="20" y="584" width="3" height="1" fill="#c0c0c0"/>
<rect x="26" y="584" width="3" height="1" fill="#c0c0c0"/>
<rect x="32" y="584" width="3" height="1" fill="#c0c0c0"/>
<rect x="38" y="584" width="3" height="1" fill="#c0c0c0"/>
<rect x="44" y="584" width="3" height="1" fill="#c0c0c0"/>
<rect x="50" y="584" width="3" height="1" fill="#c0c0c0"/>
<rect x="56" y="584" width="3" height="1" fill="#c0c0c0"/>
<rect x="62" y="584" width="3" height="1" fill="#c0c0c0"/>
<rect x="68" y="584" width="3" height="1" fill="#c0c0c0"/>
<rect x="74" y="584" width="3" height="1" fill="#c0c0c0"/>
<rect x="80" y="584" width="3" height="1" fill="#c0c0c0"/>
<rect x="86" y="584" width="3" height="1" fill="#c0c0c0"/>
<rect x="92" y="584" width="3" height="1" fill="#c0c0c0"/>
<rect x="98" y="584" width="3" height="1" fill="#c0c0c0"/>
<rect x="104" y="584" width="3" height="1" fill="#c0c0c0"/>
<rect x="110" y="584" width="3" height="1" fill="#c0c0c0"/>
<rect x="116" y="584" width="3" height="1" fill="#c0c0c0"/>
<rect x="122" y="584" width="3" height="1" fill="#c0c0c0"/>
<rect x="128" y="584" width="3" height="1" fill="#c0c0c0"/>
<rect x="134" y="584" width="3" height="1" fill="#c0c0c0"/>
<rect x="140" y="584" width="3" height="1" fill="#c0c0c0"/>
<rect x="146" y="584" width="3" height="1" fill="#c0c0c0"/>
<rect x="152" y="584" width="3" height="1" fill="#c0c0c0"/>
<rect x="158" y="584" width="3" height="1" fill="#c0c0c0"/>
<rect x="164" y="584" width="3" height="1" fill="#c0c0c0"/>
<rect x="170" y="584" width="3" height="1" fill="#c0c0c0"/>
<rect x="176" y="584" width="3" height="1" fill="#c0c0c0"/>
<rect x="182" y="584" width="3" height="1" fill="#c0c0c0"/>
<rect x="188" y="584" width="3" height="1" fill="#c0c0c0"/>
<rect x="194" y="584" width="3" height="1" fill="#c0c0c0"/>
<rect x="200" y="584" width="3" height="1" fill="#c0c0c0"/>
<rect x="206" y="584" width="3" height="1" fill="#c0c0c0"/>
<rect x="212" y="584" width="3" height="1" fill="#c0c0c0"/>
<rect x="218" y="584" width="3" height="1" fill="#c0c0c0"/>
<rect x="224" y="584" width="3" height="1" fill="#c0c0c0"/>
<rect x="230" y="584" width="3" height="1" fill="#c0c0c0"/>
<rect x="236" y="584" width="3" height="1" fill="#c0c0c0"/>
<rect x="242" y="584" width="3" height="1" fill="#c0c0c0"/>
<rect x="248" y="584" width="3" height="1" fill="#c0c0c0"/>
<rect x="254" y="584" width="3" height="1" fill="#c0c0c0"/>
<rect x="260" y="584" width="3" height="1" fill="#c0c0c0"/>
<rect x="266" y="584" width="3" height="1" fill="#c0c0c0"/>
<rect x="272" y="584" width="3" height="1" fill="#c0c0c0"/>
<rect x="278" y="584" width="3" height="1" fill="#c0c0c0"/>
<rect x="284" y="584" width="3" height="1" fill="#c0c0c0"/>
<rect x="290" y="584" width="3" height="1" fill="#c0c0c0"/>
<rect x="296" y="584" width="3" height="1" fill="#c0c0c0"/>
<rect x="302" y="584" width="3" height="1" fill="#c0c0c0"/>
<rect x="308" y="584" width="3" height="1" fill="#c0c0c0"/>
<rect x="314" y="584" width="3" height="1" fill="#c0c0c0"/>
<rect x="320" y="584" width="3" height="1" fill="#c0c0c0"/>
<rect x="326" y="584" width="3" height="1" fill="#c0c0c0"/>
<rect x="332" y="584" width="3" height="1" fill="#c0c0c0"/>
<rect x="338" y="584" width="3" height="1" fill="#c0c0c0"/>
<rect x="344" y="584" width="3" height="1" fill="#c0c0c0"/>
<rect x="350" y="584" width="3" height="1" fill="#c0c0c0"/>
<rect x="356" y="584" width="3" height="1" fill="#c0c0c0"/>
<rect x="362" y="584" width="3" height="1" fill="#c0c0c0"/>
<rect x="368" y="584" width="3" height="1" fill="#c0c0c0"/>
<rect x="374" y="584" width="3" height="1" fill="#c0c0c0"/>
<rect x="380" y="584" width="3" height="1" fill="#c0c0c0"/>
<rect x="386" y="584" width="3" height="1" fill="#c0c0c0"/>
<rect x="392" y="584" width="3" height="1" fill="#c0c0c0"/>
<rect x="398" y="584" width="3" height="1" fill="#c0c0c0"/>
<rect x="404" y="584" width="3" height="1" fill="#c0c0c0"/>
<rect x="410" y="584" width="3" height="1" fill="#c0c0c0"/>
<rect x="416" y="584" width="3" height="1" fill="#c0c0c0"/>
<rect x="422" y="584" width="3" height="1" fill="#c0c0c0"/>
<rect x="428" y="584" width="3" height="1" fill="#c0c0c0"/>
<rect x="434" y="584" width="3" height="1" fill="#c0c0c0"/>
<rect x="440" y="584" width="3" height="1" fill="#c0c0c0"/>
<rect x="446" y="584" width="3" height="1" fill="#c0c0c0"/>
<rect x="452" y="584" width="3" height="1" fill="#c0c0c0"/>
<rect x="458" y="584" width="3" height="1" fill="#c0c0c0"/>
<rect x="464" y="584" width="3" height="1" fill="#c0c0c0"/>
<rect x="470" y="584" width="3" height="1" fill="#c0c0c0"/>
<rect x="476" y="584" width="3" height="1" fill="#c0c0c0"/>
<rect x="482" y="584" width="3" height="1" fill="#c0c0c0"/>
<rect x="488" y="584" width="3" height="1" fill="#c0c0c0"/>
<rect x="494" y="584" width="3" height="1" fill="#c0c0c0"/>
<rect x="500" y="584" width="3" height="1" fill="#c0c0c0"/>
<rect x="506" y="584" width="3" height="1" fill="#c0c0c0"/>
<rect x="512" y="584" width="3" height="1" fill="#c0c0c0"/>
<rect x="518" y="584" width="3" height="1" fill="#c0c0c0"/>
<rect x="524" y="584" width="3" height="1" fill="#c0c0c0"/>
<rect x="530" y="584" width="3" height="1" fill="#c0c0c0"/>
<rect x="536" y="584" width="3" height="1" fill="#c0c0c0"/>
<rect x="542" y="584" width="3" height="1" fill="#c0c0c0"/>
<rect x="548" y="584" width="3" height="1" fill="#c0c0c0"/>
<rect x="554" y="584" width="3" height="1" fill="#c0c0c0"/>
<rect x="560" y="584" width="3" height="1" fill="#c0c0c0"/>
<rect x="566" y="584" width="3" height="1" fill="#c0c0c0"/>
<rect x="572" y="584" width="3" height="1" fill="#c0c0c0"/>
<rect x="578" y="584" width="3" height="1" fill="#c0c0c0"/>
<rect x="584" y="584" width="3" height="1" fill="#c0c0c0"/>
<rect x="590" y="584" width="3" height="1" fill="#c0c0c0"/>
<rect x="596" y="584" width="3" height="1" fill="#c0c0c0"/>
<rect x="602" y="584" width="3" height="1" fill="#c0c0c0"/>
<rect x="608" y="584" width="3" height="1" fill="#c0c0c0"/>
<rect x="614" y="584" width="3" height="1" fill="#c0c0c0"/>
<rect x="620" y="584" width="3" height="1" fill="#c0c0c0"/>
<rect x="626" y="584" width="3" height="1" fill="#c0c0c0"/>
<rect x="632" y="584" width="3" height="1" fill="#c0c0c0"/>
<rect x="638" y="584" width="3" height="1" fill="#c0c0c0"/>
<rect x="644" y="584" width="3" height="1" fill="#c0c0c0"/>
<rect x="650" y="584" width="3" height="1" fill="#c0c0c0"/>
<rect x="656" y="584" width="3" height="1" fill="#c0c0c0"/>
<rect x="662" y="584" width="3" height="1" fill="#c0c0c0"/>
<rect x="668" y="584" width="3" height="1" fill="#c0c0c0"/>
<rect x="674" y="584" width="3" height="1" fill="#c0c0c0"/>
<rect x="680" y="584" width="3" height="1" fill="#c0c0c0"/>
<rect x="686" y="584" width="3" height="1" fill="#c0c0c0"/>
<rect x="692" y="584" width="3" height="1" fill="#c0c0c0"/>
<rect x="698" y="584" width="3" height="1" fill="#c0c0c0"/>
<rect x="704" y="584" width="3" height="1" fill="#c0c0c0"/>
<rect x="710" y="584" width="3" height="1" fill="#c0c0c0"/>
<rect x="716" y="584" width="3" height="1" fill="#c0c0c0"/>
<rect x="722" y="584" width="3" height="1" fill="#c0c0c0"/>
<rect x="728" y="584" width="3" height="1" fill="#c0c0c0"/>
<rect x="734" y="584" width="3" height="1" fill="#c0c0c0"/>
<rect x="740" y="584" width="3" height="1" fill="#c0c0c0"/>
<rect x="746" y="584" width="3" height="1" fill="#c0c0c0"/>
<rect x="752" y="584" width="3" height="1" fill="#c0c0c0"/>
<rect x="758" y="584" width="3" height="1" fill="#c0c0c0"/>
<rect x="764" y="584" width="3" height="1" fill="#c0c0c0"/>
<rect x="770" y="584" width="3" height="1" fill="#c0c0c0"/>
<rect x="776" y="584" width="3" height="1" fill="#c0c0c0"/>
<rect x="782" y="584" width="3" height="1" fill="#c0c0c0"/>
<rect x="788" y="584" width="3" height="1" fill="#c0c0c0"/>
<rect x="794" y="584" width="3" height="1" fill="#c0c0c0"/>
<rect x="800" y="584" width="3" height="1" fill="#c0c0c0"/>
<rect x="806" y="584" width="3" height="1" fill="#c0c0c0"/>
<rect x="812" y="584" width="3" height="1" fill="#c0c0c0"/>
<rect x="818" y="584" width="3" height="1" fill="#c0c0c0"/>
<rect x="824" y="584" width="3" height="1" fill="#c0c0c0"/>
<rect x="830" y="584" width="3" height="1" fill="#c0c0c0"/>
<rect x="836" y="584" width="3" height="1" fill="#c0c0c0"/>
<rect x="842" y="584" width="3" height="1" fill="#c0c0c0"/>
<rect x="848" y="584" width="3" height="1" fill="#c0c0c0"/>
<rect x="854" y="584" width="3" height="1" fill="#c0c0c0"/>
<rect x="860" y="584" width="3" height="1" fill="#c0c0c0"/>
<rect x="866" y="584" width="3" height="1" fill="#c0c0c0"/>
<rect x="872" y="584" width="3" height="1" fill="#c0c0c0"/>
<rect x="878" y="584" width="3" height="1" fill="#c0c0c0"/>
<rect x="884" y="584" width="3" height="1" fill="#c0c0c0"/>
<rect x="890" y="584" width="3" height="1" fill="#c0c0c0"/>
<rect x="896" y="584" width="3" height="1" fill="#c0c0c0"/>
<rect x="902" y="584" width="3" height="1" fill="#c0c0c0"/>
<rect x="908" y="584" width="3" height="1" fill="#c0c0c0"/>
<rect x="914" y="584" width="3" height="1" fill="#c0c0c0"/>
<rect x="920" y="584" width="3" height="1" fill="#c0c0c0"/>
<rect x="926" y="584" width="3" height="1" fill="#c0c0c0"/>
<rect x="932" y="584" width="3" height="1" fill="#c0c0c0"/>
<rect x="938" y="584" width="3" height="1" fill="#c0c0c0"/>
<rect x="944" y="584" width="3" height="1" fill="#c0c0c0"/>
<rect x="950" y="584" width="3" height="1" fill="#c0c0c0"/>
<rect x="956" y="584" width="3" height="1" fill="#c0c0c0"/>
<rect x="962" y="584" width="3" height="1" fill="#c0c0c0"/>
<rect x="968" y="584" width="3" height="1" fill="#c0c0c0"/>
<rect x="974" y="584" width="3" height="1" fill="#c0c0c0"/>
<rect x="980" y="584" width="3" height="1" fill="#c0c0c0"/>
<rect x="986" y="584" width="3" height="1" fill="#c0c0c0"/>
<rect x="992" y="584" width="3" height="1" fill="#c0c0c0"/>
<rect x="998" y="584" width="3" height="1" fill="#c0c0c0"/>
<rect x="1004" y="584" width="3" height="1" fill="#c0c0c0"/>
<rect x="1010" y="584" width="3" height="1" fill="#c0c0c0"/>
<rect x="1016" y="584" width="3" height="1" fill="#c0c0c0"/>
<rect x="1022" y="584" width="3" height="1" fill="#c0c0c0"/>
<rect x="1028" y="584" width="3" height="1" fill="#c0c0c0"/>
<rect x="1034" y="584" width="3" height="1" fill="#c0c0c0"/>
<rect x="1040" y="584" width="3" height="1" fill="#c0c0c0"/>
<rect x="1046" y="584" width="3" height="1" fill="#c0c0c0"/>
<rect x="1052" y="584" width="3" height="1" fill="#c0c0c0"/>
<rect x="1058" y="584" width="3" height="1" fill="#c0c0c0"/>
<rect x="1064" y="584" width="3" height="1" fill="#c0c0c0"/>
<rect x="1070" y="584" width="3" height="1" fill="#c0c0c0"/>
<rect x="1076" y="584" width="3" height="1" fill="#c0c0c0"/>
<rect x="1082" y="584" width="3" height="1" fill="#c0c0c0"/>
<rect x="1088" y="584" width="3" height="1" fill="#c0c0c0"/>
<rect x="1094" y="584" width="3" height="1" fill="#c0c0c0"/>
<rect x="1100" y="584" width="3" height="1" fill="#c0c0c0"/>
<rect x="1106" y="584" width="3" height="1" fill="#c0c0c0"/>
<rect x="1112" y="584" width="3" height="1" fill="#c0c0c0"/>
<rect x="1118" y="584" width="3" height="1" fill="#c0c0c0"/>
<rect x="1124" y="584" width="3" height="1" fill="#c0c0c0"/>
<rect x="1130" y="584" width="3" height="1" fill="#c0c0c0"/>
<rect x="1136" y="584" width="3" height="1" fill="#c0c0c0"/>
<rect x="1142" y="584" width="3" height="1" fill="#c0c0c0"/>
<rect x="1148" y="584" width="3" height="1" fill="#c0c0c0"/>
<rect x="1154" y="584" width="3" height="1" fill="#c0c0c0"/>
<rect x="1160" y="584" width="3" height="1" fill="#c0c0c0"/>
<rect x="1166" y="584" width="3" height="1" fill="#c0c0c0"/>
<rect x="1172" y="584" width="3" height="1" fill="#c0c0c0"/>
<rect x="1178" y="584" width="3" height="1" fill="#c0c0c0"/>
<rect x="1184" y="584" width="3" height="1" fill="#c0c0c0"/>
<rect x="1190" y="584" width="3" height="1" fill="#c0c0c0"/>
<rect x="1196" y="584" width="3" height="1" fill="#c0c0c0"/>
<rect x="1202" y="584" width="3" height="1" fill="#c0c0c0"/>
<rect x="1208" y="584" width="3" height="1" fill="#c0c0c0"/>
<rect x="1214" y="584" width="3" height="1" fill="#c0c0c0"/>
<rect x="1220" y="584" width="3" height="1" fill="#c0c0c0"/>
<rect x="1226" y="584" width="3" height="1" fill="#c0c0c0"/>
<rect x="1232" y="584" width="3" height="1" fill="#c0c0c0"/>
<rect x="1238" y="584" width="3" height="1" fill="#c0c0c0"/>
<rect x="1244" y="584" width="3" height="1" fill="#c0c0c0"/>
<rect x="1250" y="584" width="3" height="1" fill="#c0c0c0"/>
<rect x="1256" y="584" width="3" height="1" fill="#c0c0c0"/>
<rect x="1262" y="584" width="3" height="1" fill="#c0c0c0"/>
<rect x="1268" y="584" width="3" height="1" fill="#c0c0c0"/>
<rect x="1274" y="584" width="3" height="1" fill="#c0c0c0"/>
<rect x="1280" y="584" width="3" height="1" fill="#c0c0c0"/>
<rect x="1286" y="584" width="3" height="1" fill="#c0c0c0"/>
<rect x="1292" y="584" width="3" height="1" fill="#c0c0c0"/>
<rect x="1298" y="584" width="3" height="1" fill="#c0c0c0"/>
<rect x="1304" y="584" width="3" height="1" fill="#c0c0c0"/>
<rect x="1310" y="584" width="3" height="1" fill="#c0c0c0"/>
<rect x="1316" y="584" width="3" height="1" fill="#c0c0c0"/>
<rect x="1322" y="584" width="3" height="1" fill="#c0c0c0"/>
<rect x="1328" y="584" width="3" height="1" fill="#c0c0c0"/>
<rect x="1334" y="584" width="3" height="1" fill="#c0c0c0"/>
<rect x="1340" y="584" width="3" height="1" fill="#c0c0c0"/>
<rect x="1346" y="584" width="3" height="1" fill="#c0c0c0"/>
<rect x="1352" y="584" width="3" height="1" fill="#c0c0c0"/>
<rect x="1358" y="584" width="3" height="1" fill="#c0c0c0"/>
<rect x="1364" y="584" width="3" height="1" fill="#c0c0c0"/>
<rect x="1370" y="584" width="3" height="1" fill="#c0c0c0"/>
<rect x="1376" y="584" width="3" height="1" fill="#c0c0c0"/>
<rect x="1382" y="584" width="3" height="1" fill="#c0c0c0"/>
<rect x="1388" y="584" width="3" height="1" fill="#c0c0c0"/>
<rect x="1394" y="584" width="3" height="1" fill="#c0c0c0"/>
<rect x="1400" y="584" width="3" height="1" fill="#c0c0c0"/>
<rect x="1406" y="584" width="3" height="1" fill="#c0c0c0"/>
<rect x="1412" y="584" width="3" height="1" fill="#c0c0c0"/>
<rect x="1418" y="584" width="3" height="1" fill="#c0c0c0"/>
<rect x="1424" y="584" width="3" height="1" fill="#c0c0c0"/>
<rect x="1430" y="584" width="3" height="1" fill="#c0c0c0"/>
<rect x="1436" y="584" width="3" height="1" fill="#c0c0c0"/>
<rect x="1442" y="584" width="3" height="1" fill="#c0c0c0"/>
<rect x="1448" y="584" width="3" height="1" fill="#c0c0c0"/>
<rect x="1454" y="584" width="3" height="1" fill="#c0c0c0"/>
<rect x="1460" y="584" width="3" height="1" fill="#c0c0c0"/>
<rect x="1466" y="584" width="3" height="1" fill="#c0c0c0"/>
<rect x="1472" y="584" width="3" height="1" fill="#c0c0c0"/>
<rect x="1478" y="584" width="3" height="1" fill="#c0c0c0"/>
<rect x="1484" y="584" width="3" height="1" fill="#c0c0c0"/>
<rect x="1490" y="584" width="3" height="1" fill="#c0c0c0"/>
<rect x="1496" y="584" width="3" height="1" fill="#c0c0c0"/>
<rect x="1502" y="584" width="3" height="1" fill="#c0c0c0"/>
<rect x="1508" y="584" width="3" height="1" fill="#c0c0c0"/>
<rect x="1514" y="584" width="3" height="1" fill="#c0c0c0"/>
<rect x="1520" y="584" width="3" height="1" fill="#c0c0c0"/>
<rect x="1526" y="584" width="3" height="1" fill="#c0c0c0"/>
<rect x="1532" y="584" width="3" height="1" fill="#c0c0c0"/>
<rect x="1538" y="584" width="3" height="1" fill="#c0c0c0"/>
<rect x="1544" y="584" width="3" height="1" fill="#c0c0c0"/>
<rect x="1550" y="584" width="3" height="1" fill="#c0c0c0"/>
<rect x="1556" y="584" width="3" height="1" fill="#c0c0c0"/>
<rect x="1562" y="584" width="3" height="1" fill="#c0c0c0"/>
<rect x="1568" y="584" width="3" height="1" fill="#c0c0c0"/>
<rect x="1574" y="584" width="3" height="1" fill="#c0c0c0"/>
<rect x="2" y="621" width="3" height="1" fill="#c0c0c0"/>
<rect x="8" y="621" width="3" height="1" fill="#c0c0c0"/>
<rect x="14" y="621" width="3" height="1" fill="#c0c0c0"/>
<rect x="20" y="621" width="3" height="1" fill="#c0c0c0"/>
<rect x="26" y="621" width="3" height="1" fill="#c0c0c0"/>
<rect x="32" y="621" width="3" height="1" fill="#c0c0c0"/>
<rect x="38" y="621" width="3" height="1" fill="#c0c0c0"/>
<rect x="44" y="621" width="3" height="1" fill="#c0c0c0"/>
<rect x="50" y="621" width="3" height="1" fill="#c0c0c0"/>
<rect x="56" y="621" width="3" height="1" fill="#c0c0c0"/>
<rect x="62" y="621" width="3" height="1" fill="#c0c0c0"/>
<rect x="68" y="621" width="3" height="1" fill="#c0c0c0"/>
<rect x="74" y="621" width="3" height="1" fill="#c0c0c0"/>
<rect x="80" y="621" width="3" height="1" fill="#c0c0c0"/>
<rect x="86" y="621" width="3" height="1" fill="#c0c0c0"/>
<rect x="92" y="621" width="3" height="1" fill="#c0c0c0"/>
<rect x="98" y="621" width="3" height="1" fill="#c0c0c0"/>
<rect x="104" y="621" width="3" height="1" fill="#c0c0c0"/>
<rect x="110" y="621" width="3" height="1" fill="#c0c0c0"/>
<rect x="116" y="621" width="3" height="1" fill="#c0c0c0"/>
<rect x="122" y="621" width="3" height="1" fill="#c0c0c0"/>
<rect x="128" y="621" width="3" height="1" fill="#c0c0c0"/>
<rect x="134" y="621" width="3" height="1" fill="#c0c0c0"/>
<rect x="140" y="621" width="3" height="1" fill="#c0c0c0"/>
<rect x="146" y="621" width="3" height="1" fill="#c0c0c0"/>
<rect x="152" y="621" width="3" height="1" fill="#c0c0c0"/>
<rect x="158" y="621" width="3" height="1" fill="#c0c0c0"/>
<rect x="164" y="621" width="3" height="1" fill="#c0c0c0"/>
<rect x="170" y="621" width="3" height="1" fill="#c0c0c0"/>
<rect x="176" y="621" width="3" height="1" fill="#c0c0c0"/>
<rect x="182" y="621" width="3" height="1" fill="#c0c0c0"/>
<rect x="188" y="621" width="3" height="1" fill="#c0c0c0"/>
<rect x="194" y="621" width="3" height="1" fill="#c0c0c0"/>
<rect x="200" y="621" width="3" height="1" fill="#c0c0c0"/>
<rect x="206" y="621" width="3" height="1" fill="#c0c0c0"/>
<rect x="212" y="621" width="3" height="1" fill="#c0c0c0"/>
<rect x="218" y="621" width="3" height="1" fill="#c0c0c0"/>
<rect x="224" y="621" width="3" height="1" fill="#c0c0c0"/>
<rect x="230" y="621" width="3" height="1" fill="#c0c0c0"/>
<rect x="236" y="621" width="3" height="1" fill="#c0c0c0"/>
<rect x="242" y="621" width="3" height="1" fill="#c0c0c0"/>
<rect x="248" y="621" width="3" height="1" fill="#c0c0c0"/>
<rect x="254" y="621" width="3" height="1" fill="#c0c0c0"/>
<rect x="260" y="621" width="3" height="1" fill="#c0c0c0"/>
<rect x="266" y="621" width="3" height="1" fill="#c0c0c0"/>
<rect x="272" y="621" width="3" height="1" fill="#c0c0c0"/>
<rect x="278" y="621" width="3" height="1" fill="#c0c0c0"/>
<rect x="284" y="621" width="3" height="1" fill="#c0c0c0"/>
<rect x="290" y="621" width="3" height="1" fill="#c0c0c0"/>
<rect x="296" y="621" width="3" height="1" fill="#c0c0c0"/>
<rect x="302" y="621" width="3" height="1" fill="#c0c0c0"/>
<rect x="308" y="621" width="3" height="1" fill="#c0c0c0"/>
<rect x="314" y="621" width="3" height="1" fill="#c0c0c0"/>
<rect x="320" y="621" width="3" height="1" fill="#c0c0c0"/>
<rect x="326" y="621" width="3" height="1" fill="#c0c0c0"/>
<rect x="332" y="621" width="3" height="1" fill="#c0c0c0"/>
<rect x="338" y="621" width="3" height="1" fill="#c0c0c0"/>
<rect x="344" y="621" width="3" height="1" fill="#c0c0c0"/>
<rect x="350" y="621" width="3" height="1" fill="#c0c0c0"/>
<rect x="356" y="621" width="3" height="1" fill="#c0c0c0"/>
<rect x="362" y="621" width="3" height="1" fill="#c0c0c0"/>
<rect x="368" y="621" width="3" height="1" fill="#c0c0c0"/>
<rect x="374" y="621" width="3" height="1" fill="#c0c0c0"/>
<rect x="380" y="621" width="3" height="1" fill="#c0c0c0"/>
<rect x="386" y="621" width="3" height="1" fill="#c0c0c0"/>
<rect x="392" y="621" width="3" height="1" fill="#c0c0c0"/>
<rect x="398" y="621" width="3" height="1" fill="#c0c0c0"/>
<rect x="404" y="621" width="3" height="1" fill="#c0c0c0"/>
<rect x="410" y="621" width="3" height="1" fill="#c0c0c0"/>
<rect x="416" y="621" width="3" height="1" fill="#c0c0c0"/>
<rect x="422" y="621" width="3" height="1" fill="#c0c0c0"/>
<rect x="428" y="621" width="3" height="1" fill="#c0c0c0"/>
<rect x="434" y="621" width="3" height="1" fill="#c0c0c0"/>
<rect x="440" y="621" width="3" height="1" fill="#c0c0c0"/>
<rect x="446" y="621" width="3" height="1" fill="#c0c0c0"/>
<rect x="452" y="621" width="3" height="1" fill="#c0c0c0"/>
<rect x="458" y="621" width="3" height="1" fill="#c0c0c0"/>
<rect x="464" y="621" width="3" height="1" fill="#c0c0c0"/>
<rect x="470" y="621" width="3" height="1" fill="#c0c0c0"/>
<rect x="476" y="621" width="3" height="1" fill="#c0c0c0"/>
<rect x="482" y="621" width="3" height="1" fill="#c0c0c0"/>
<rect x="488" y="621" width="3" height="1" fill="#c0c0c0"/>
<rect x="494" y="621" width="3" height="1" fill="#c0c0c0"/>
<rect x="500" y="621" width="3" height="1" fill="#c0c0c0"/>
<rect x="506" y="621" width="3" height="1" fill="#c0c0c0"/>
<rect x="512" y="621" width="3" height="1" fill="#c0c0c0"/>
<rect x="518" y="621" width="3" height="1" fill="#c0c0c0"/>
<rect x="524" y="621" width="3" height="1" fill="#c0c0c0"/>
<rect x="530" y="621" width="3" height="1" fill="#c0c0c0"/>
<rect x="536" y="621" width="3" height="1" fill="#c0c0c0"/>
<rect x="542" y="621" width="3" height="1" fill="#c0c0c0"/>
<rect x="548" y="621" width="3" height="1" fill="#c0c0c0"/>
<rect x="554" y="621" width="3" height="1" fill="#c0c0c0"/>
<rect x="560" y="621" width="3" height="1" fill="#c0c0c0"/>
<rect x="566" y="621" width="3" height="1" fill="#c0c0c0"/>
<rect x="572" y="621" width="3" height="1" fill="#c0c0c0"/>
<rect x="578" y="621" width="3" height="1" fill="#c0c0c0"/>
<rect x="584" y="621" width="3" height="1" fill="#c0c0c0"/>
<rect x="590" y="621" width="3" height="1" fill="#c0c0c0"/>
<rect x="596" y="621" width="3" height="1" fill="#c0c0c0"/>
<rect x="602" y="621" width="3" height="1" fill="#c0c0c0"/>
<rect x="608" y="621" width="3" height="1" fill="#c0c0c0"/>
<rect x="614" y="621" width="3" height="1" fill="#c0c0c0"/>
<rect x="620" y="621" width="3" height="1" fill="#c0c0c0"/>
<rect x="626" y="621" width="3" height="1" fill="#c0c0c0"/>
<rect x="632" y="621" width="3" height="1" fill="#c0c0c0"/>
<rect x="638" y="621" width="3" height="1" fill="#c0c0c0"/>
<rect x="644" y="621" width="3" height="1" fill="#c0c0c0"/>
<rect x="650" y="621" width="3" height="1" fill="#c0c0c0"/>
<rect x="656" y="621" width="3" height="1" fill="#c0c0c0"/>
<rect x="662" y="621" width="3" height="1" fill="#c0c0c0"/>
<rect x="668" y="621" width="3" height="1" fill="#c0c0c0"/>
<rect x="674" y="621" width="3" height="1" fill="#c0c0c0"/>
<rect x="680" y="621" width="3" height="1" fill="#c0c0c0"/>
<rect x="686" y="621" width="3" height="1" fill="#c0c0c0"/>
<rect x="692" y="621" width="3" height="1" fill="#c0c0c0"/>
<rect x="698" y="621" width="3" height="1" fill="#c0c0c0"/>
<rect x="704" y="621" width="3" height="1" fill="#c0c0c0"/>
<rect x="710" y="621" width="3" height="1" fill="#c0c0c0"/>
<rect x="716" y="621" width="3" height="1" fill="#c0c0c0"/>
<rect x="722" y="621" width="3" height="1" fill="#c0c0c0"/>
<rect x="728" y="621" width="3" height="1" fill="#c0c0c0"/>
<rect x="734" y="621" width="3" height="1" fill="#c0c0c0"/>
<rect x="740" y="621" width="3" height="1" fill="#c0c0c0"/>
<rect x="746" y="621" width="3" height="1" fill="#c0c0c0"/>
<rect x="752" y="621" width="3" height="1" fill="#c0c0c0"/>
<rect x="758" y="621" width="3" height="1" fill="#c0c0c0"/>
<rect x="764" y="621" width="3" height="1" fill="#c0c0c0"/>
<rect x="770" y="621" width="3" height="1" fill="#c0c0c0"/>
<rect x="776" y="621" width="3" height="1" fill="#c0c0c0"/>
<rect x="782" y="621" width="3" height="1" fill="#c0c0c0"/>
<rect x="788" y="621" width="3" height="1" fill="#c0c0c0"/>
<rect x="794" y="621" width="3" height="1" fill="#c0c0c0"/>
<rect x="800" y="621" width="3" height="1" fill="#c0c0c0"/>
<rect x="806" y="621" width="3" height="1" fill="#c0c0c0"/>
<rect x="812" y="621" width="3" height="1" fill="#c0c0c0"/>
<rect x="818" y="621" width="3" height="1" fill="#c0c0c0"/>
<rect x="824" y="621" width="3" height="1" fill="#c0c0c0"/>
<rect x="830" y="621" width="3" height="1" fill="#c0c0c0"/>
<rect x="836" y="621" width="3" height="1" fill="#c0c0c0"/>
<rect x="842" y="621" width="3" height="1" fill="#c0c0c0"/>
<rect x="848" y="621" width="3" height="1" fill="#c0c0c0"/>
<rect x="854" y="621" width="3" height="1" fill="#c0c0c0"/>
<rect x="860" y="621" width="3" height="1" fill="#c0c0c0"/>
<rect x="866" y="621" width="3" height="1" fill="#c0c0c0"/>
<rect x="872" y="621" width="3" height="1" fill="#c0c0c0"/>
<rect x="878" y="621" width="3" height="1" fill="#c0c0c0"/>
<rect x="884" y="621" width="3" height="1" fill="#c0c0c0"/>
<rect x="890" y="621" width="3" height="1" fill="#c0c0c0"/>
<rect x="896" y="621" width="3" height="1" fill="#c0c0c0"/>
<rect x="902" y="621" width="3" height="1" fill="#c0c0c0"/>
<rect x="908" y="621" width="3" height="1" fill="#c0c0c0"/>
<rect x="914" y="621" width="3" height="1" fill="#c0c0c0"/>
<rect x="920" y="621" width="3" height="1" fill="#c0c0c0"/>
<rect x="926" y="621" width="3" height="1" fill="#c0c0c0"/>
<rect x="932" y="621" width="3" height="1" fill="#c0c0c0"/>
<rect x="938" y="621" width="3" height="1" fill="#c0c0c0"/>
<rect x="944" y="621" width="3" height="1" fill="#c0c0c0"/>
<rect x="950" y="621" width="3" height="1" fill="#c0c0c0"/>
<rect x="956" y="621" width="3" height="1" fill="#c0c0c0"/>
<rect x="962" y="621" width="3" height="1" fill="#c0c0c0"/>
<rect x="968" y="621" width="3" height="1" fill="#c0c0c0"/>
<rect x="974" y="621" width="3" height="1" fill="#c0c0c0"/>
<rect x="980" y="621" width="3" height="1" fill="#c0c0c0"/>
<rect x="986" y="621" width="3" height="1" fill="#c0c0c0"/>
<rect x="992" y="621" width="3" height="1" fill="#c0c0c0"/>
<rect x="998" y="621" width="3" height="1" fill="#c0c0c0"/>
<rect x="1004" y="621" width="3" height="1" fill="#c0c0c0"/>
<rect x="1010" y="621" width="3" height="1" fill="#c0c0c0"/>
<rect x="1016" y="621" width="3" height="1" fill="#c0c0c0"/>
<rect x="1022" y="621" width="3" height="1" fill="#c0c0c0"/>
<rect x="1028" y="621" width="3" height="1" fill="#c0c0c0"/>
<rect x="1034" y="621" width="3" height="1" fill="#c0c0c0"/>
<rect x="1040" y="621" width="3" height="1" fill="#c0c0c0"/>
<rect x="1046" y="621" width="3" height="1" fill="#c0c0c0"/>
<rect x="1052" y="621" width="3" height="1" fill="#c0c0c0"/>
<rect x="1058" y="621" width="3" height="1" fill="#c0c0c0"/>
<rect x="1064" y="621" width="3" height="1" fill="#c0c0c0"/>
<rect x="1070" y="621" width="3" height="1" fill="#c0c0c0"/>
<rect x="1076" y="621" width="3" height="1" fill="#c0c0c0"/>
<rect x="1082" y="621" width="3" height="1" fill="#c0c0c0"/>
<rect x="1088" y="621" width="3" height="1" fill="#c0c0c0"/>
<rect x="1094" y="621" width="3" height="1" fill="#c0c0c0"/>
<rect x="1100" y="621" width="3" height="1" fill="#c0c0c0"/>
<rect x="1106" y="621" width="3" height="1" fill="#c0c0c0"/>
<rect x="1112" y="621" width="3" height="1" fill="#c0c0c0"/>
<rect x="1118" y="621" width="3" height="1" fill="#c0c0c0"/>
<rect x="1124" y="621" width="3" height="1" fill="#c0c0c0"/>
<rect x="1130" y="621" width="3" height="1" fill="#c0c0c0"/>
<rect x="1136" y="621" width="3" height="1" fill="#c0c0c0"/>
<rect x="1142" y="621" width="3" height="1" fill="#c0c0c0"/>
<rect x="1148" y="621" width="3" height="1" fill="#c0c0c0"/>
<rect x="1154" y="621" width="3" height="1" fill="#c0c0c0"/>
<rect x="1160" y="621" width="3" height="1" fill="#c0c0c0"/>
<rect x="1166" y="621" width="3" height="1" fill="#c0c0c0"/>
<rect x="1172" y="621" width="3" height="1" fill="#c0c0c0"/>
<rect x="1178" y="621" width="3" height="1" fill="#c0c0c0"/>
<rect x="1184" y="621" width="3" height="1" fill="#c0c0c0"/>
<rect x="1190" y="621" width="3" height="1" fill="#c0c0c0"/>
<rect x="1196" y="621" width="3" height="1" fill="#c0c0c0"/>
<rect x="1202" y="621" width="3" height="1" fill="#c0c0c0"/>
<rect x="1208" y="621" width="3" height="1" fill="#c0c0c0"/>
<rect x="1214" y="621" width="3" height="1" fill="#c0c0c0"/>
<rect x="1220" y="621" width="3" height="1" fill="#c0c0c0"/>
<rect x="1226" y="621" width="3" height="1" fill="#c0c0c0"/>
<rect x="1232" y="621" width="3" height="1" fill="#c0c0c0"/>
<rect x="1238" y="621" width="3" height="1" fill="#c0c0c0"/>
<rect x="1244" y="621" width="3" height="1" fill="#c0c0c0"/>
<rect x="1250" y="621" width="3" height="1" fill="#c0c0c0"/>
<rect x="1256" y="621" width="3" height="1" fill="#c0c0c0"/>
<rect x="1262" y="621" width="3" height="1" fill="#c0c0c0"/>
<rect x="1268" y="621" width="3" height="1" fill="#c0c0c0"/>
<rect x="1274" y="621" width="3" height="1" fill="#c0c0c0"/>
<rect x="1280" y="621" width="3" height="1" fill="#c0c0c0"/>
<rect x="1286" y="621" width="3" height="1" fill="#c0c0c0"/>
<rect x="1292" y="621" width="3" height="1" fill="#c0c0c0"/>
<rect x="1298" y="621" width="3" height="1" fill="#c0c0c0"/>
<rect x="1304" y="621" width="3" height="1" fill="#c0c0c0"/>
<rect x="1310" y="621" width="3" height="1" fill="#c0c0c0"/>
<rect x="1316" y="621" width="3" height="1" fill="#c0c0c0"/>
<rect x="1322" y="621" width="3" height="1" fill="#c0c0c0"/>
<rect x="1328" y="621" width="3" height="1" fill="#c0c0c0"/>
<rect x="1334" y="621" width="3" height="1" fill="#c0c0c0"/>
<rect x="1340" y="621" width="3" height="1" fill="#c0c0c0"/>
<rect x="1346" y="621" width="3" height="1" fill="#c0c0c0"/>
<rect x="1352" y="621" width="3" height="1" fill="#c0c0c0"/>
<rect x="1358" y="621" width="3" height="1" fill="#c0c0c0"/>
<rect x="1364" y="621" width="3" height="1" fill="#c0c0c0"/>
<rect x="1370" y="621" width="3" height="1" fill="#c0c0c0"/>
<rect x="1376" y="621" width="3" height="1" fill="#c0c0c0"/>
<rect x="1382" y="621" width="3" height="1" fill="#c0c0c0"/>
<rect x="1388" y="621" width="3" height="1" fill="#c0c0c0"/>
<rect x="1394" y="621" width="3" height="1" fill="#c0c0c0"/>
<rect x="1400" y="621" width="3" height="1" fill="#c0c0c0"/>
<rect x="1406" y="621" width="3" height="1" fill="#c0c0c0"/>
<rect x="1412" y="621" width="3" height="1" fill="#c0c0c0"/>
<rect x="1418" y="621" width="3" height="1" fill="#c0c0c0"/>
<rect x="1424" y="621" width="3" height="1" fill="#c0c0c0"/>
<rect x="1430" y="621" width="3" height="1" fill="#c0c0c0"/>
<rect x="1436" y="621" width="3" height="1" fill="#c0c0c0"/>
<rect x="1442" y="621" width="3" height="1" fill="#c0c0c0"/>
<rect x="1448" y="621" width="3" height="1" fill="#c0c0c0"/>
<rect x="1454" y="621" width="3" height="1" fill="#c0c0c0"/>
<rect x="1460" y="621" width="3" height="1" fill="#c0c0c0"/>
<rect x="1466" y="621" width="3" height="1" fill="#c0c0c0"/>
<rect x="1472" y="621" width="3" height="1" fill="#c0c0c0"/>
<rect x="1478" y="621" width="3" height="1" fill="#c0c0c0"/>
<rect x="1484" y="621" width="3" height="1" fill="#c0c0c0"/>
<rect x="1490" y="621" width="3" height="1" fill="#c0c0c0"/>
<rect x="1496" y="621" width="3" height="1" fill="#c0c0c0"/>
<rect x="1502" y="621" width="3" height="1" fill="#c0c0c0"/>
<rect x="1508" y="621" width="3" height="1" fill="#c0c0c0"/>
<rect x="1514" y="621" width="3" height="1" fill="#c0c0c0"/>
<rect x="1520" y="621" width="3" height="1" fill="#c0c0c0"/>
<rect x="1526" y="621" width="3" height="1" fill="#c0c0c0"/>
<rect x="1532" y="621" width="3" height="1" fill="#c0c0c0"/>
<rect x="1538" y="621" width="3" height="1" fill="#c0c0c0"/>
<rect x="1544" y="621" width="3" height="1" fill="#c0c0c0"/>
<rect x="1550" y="621" width="3" height="1" fill="#c0c0c0"/>
<rect x="1556" y="621" width="3" height="1" fill="#c0c0c0"/>
<rect x="1562" y="621" width="3" height="1" fill="#c0c0c0"/>
<rect x="1568" y="621" width="3" height="1" fill="#c0c0c0"/>
<rect x="1574" y="621" width="3" height="1" fill="#c0c0c0"/>
</g>
<g clip-path="url(#cr)" shape-rendering="crispEdges">
<polyline points="1.5,591.9 9.5,589.2 17.5,589.2 25.5,590.2 33.5,591.3 41.5,591.3 49.5,594.3 57.5,589.6 65.5,592.3 73.5,588.6 81.5,587.8 89.5,590.0 97.5,589.7 105.5,587.6 113.5,579.6 121.5,576.5 129.5,579.6 137.5,587.4 145.5,587.4 153.5,584.0 161.5,581.5 169.5,581.5 177.5,587.4 185.5,585.4 193.5,587.8 201.5,594.9 209.5,590.0 217.5,584.3 225.5,583.4 233.5,594.3 241.5,595.7 249.5,594.4 257.5,596.0 265.5,594.3 273.5,595.7 281.5,594.6 289.5,593.8 297.5,589.3 305.5,587.0 313.5,587.3 321.5,598.0 329.5,601.3 337.5,600.5 345.5,598.4 353.5,597.8 361.5,591.9 369.5,587.9 377.5,580.5 385.5,580.2 393.5,578.3 401.5,581.3 409.5,590.8 417.5,597.6 425.5,598.4 433.5,594.7 441.5,597.6 449.5,603.7 457.5,598.7 465.5,597.5 473.5,599.0 481.5,599.2 489.5,596.1 497.5,596.8 505.5,592.3 513.5,599.6 521.5,596.7 529.5,598.5 537.5,609.1 545.5,612.7 553.5,618.6 561.5,621.5 569.5,623.5 577.5,621.5 585.5,615.7 593.5,610.8 601.5,605.2 609.5,602.5 617.5,606.6 625.5,605.1 633.5,602.8 641.5,606.1 649.5,606.8 657.5,605.0 665.5,596.8 673.5,597.4 681.5,600.4 689.5,604.9 697.5,604.3 705.5,612.6 713.5,612.0 721.5,611.6 729.5,611.1 737.5,614.3 745.5,606.0 753.5,607.2 761.5,606.0 769.5,604.0 777.5,605.6 785.5,602.5 793.5,611.1 801.5,616.1 809.5,613.9 817.5,612.9 825.5,612.0 833.5,597.3 841.5,598.2 849.5,589.4 857.5,590.3 865.5,590.5 873.5,588.2 881.5,591.7 889.5,592.6 897.5,592.7 905.5,595.2 913.5,593.2 921.5,588.2 929.5,591.5 937.5,589.3 945.5,597.1 953.5,593.2 961.5,593.2 969.5,597.7 977.5,591.8 985.5,591.2 993.5,590.2 1001.5,587.7 1009.5,589.0 1017.5,592.0 1025.5,594.1 1033.5,591.4 1041.5,585.9 1049.5,588.0 1057.5,587.3 1065.5,587.0 1073.5,592.6 1081.5,588.0 1089.5,583.7 1097.5,582.4 1105.5,582.3 1113.5,582.6 1121.5,582.3 1129.5,580.4 1137.5,576.8 1145.5,578.8 1153.5,578.4 1161.5,590.0 1169.5,595.7 1177.5,590.2 1185.5,588.4 1193.5,589.4 1201.5,593.4 1209.5,589.1 1217.5,583.7 1225.5,581.6 1233.5,586.0 1241.5,584.4" fill="none" stroke="#1e90ff" stroke-width="1"/>
</g>
<text transform="translate(1580.8,565) scale(0.91,1)" font-size="10.2" fill="#000" font-weight="normal" text-anchor="start">100</text>
<text transform="translate(1580.8,588) scale(0.91,1)" font-size="10.2" fill="#000" font-weight="normal" text-anchor="start">70</text>
<text transform="translate(1580.8,625) scale(0.91,1)" font-size="10.2" fill="#000" font-weight="normal" text-anchor="start">30</text>
<text transform="translate(1580.8,647) scale(0.91,1)" font-size="10.2" fill="#000" font-weight="normal" text-anchor="start">0</text>
<rect x="1578" y="556" width="2" height="1" fill="#000"/>
<text transform="translate(4.8,665) scale(0.9,1)" font-size="10.3" fill="#000" font-weight="normal" text-anchor="start">MACD(12,26,9) 0.007389 0.006595</text>
<g clip-path="url(#cd)" shape-rendering="crispEdges">
<rect x="1" y="683" width="1" height="28" fill="#c0c0c0"/>
<rect x="9" y="683" width="1" height="28" fill="#c0c0c0"/>
<rect x="17" y="682" width="1" height="29" fill="#c0c0c0"/>
<rect x="25" y="682" width="1" height="29" fill="#c0c0c0"/>
<rect x="33" y="683" width="1" height="28" fill="#c0c0c0"/>
<rect x="41" y="683" width="1" height="28" fill="#c0c0c0"/>
<rect x="49" y="683" width="1" height="28" fill="#c0c0c0"/>
<rect x="57" y="683" width="1" height="28" fill="#c0c0c0"/>
<rect x="65" y="683" width="1" height="28" fill="#c0c0c0"/>
<rect x="73" y="683" width="1" height="28" fill="#c0c0c0"/>
<rect x="81" y="684" width="1" height="27" fill="#c0c0c0"/>
<rect x="89" y="684" width="1" height="27" fill="#c0c0c0"/>
<rect x="97" y="685" width="1" height="26" fill="#c0c0c0"/>
<rect x="105" y="685" width="1" height="26" fill="#c0c0c0"/>
<rect x="113" y="680" width="1" height="31" fill="#c0c0c0"/>
<rect x="121" y="674" width="1" height="37" fill="#c0c0c0"/>
<rect x="129" y="671" width="1" height="40" fill="#c0c0c0"/>
<rect x="137" y="671" width="1" height="40" fill="#c0c0c0"/>
<rect x="145" y="672" width="1" height="39" fill="#c0c0c0"/>
<rect x="153" y="671" width="1" height="40" fill="#c0c0c0"/>
<rect x="161" y="669" width="1" height="42" fill="#c0c0c0"/>
<rect x="169" y="667" width="1" height="44" fill="#c0c0c0"/>
<rect x="177" y="668" width="1" height="43" fill="#c0c0c0"/>
<rect x="185" y="668" width="1" height="43" fill="#c0c0c0"/>
<rect x="193" y="669" width="1" height="42" fill="#c0c0c0"/>
<rect x="201" y="673" width="1" height="38" fill="#c0c0c0"/>
<rect x="209" y="674" width="1" height="37" fill="#c0c0c0"/>
<rect x="217" y="672" width="1" height="39" fill="#c0c0c0"/>
<rect x="225" y="669" width="1" height="42" fill="#c0c0c0"/>
<rect x="233" y="673" width="1" height="38" fill="#c0c0c0"/>
<rect x="241" y="675" width="1" height="36" fill="#c0c0c0"/>
<rect x="249" y="678" width="1" height="33" fill="#c0c0c0"/>
<rect x="257" y="680" width="1" height="31" fill="#c0c0c0"/>
<rect x="265" y="682" width="1" height="29" fill="#c0c0c0"/>
<rect x="273" y="683" width="1" height="28" fill="#c0c0c0"/>
<rect x="281" y="685" width="1" height="26" fill="#c0c0c0"/>
<rect x="289" y="686" width="1" height="25" fill="#c0c0c0"/>
<rect x="297" y="685" width="1" height="26" fill="#c0c0c0"/>
<rect x="305" y="684" width="1" height="27" fill="#c0c0c0"/>
<rect x="313" y="683" width="1" height="28" fill="#c0c0c0"/>
<rect x="321" y="686" width="1" height="25" fill="#c0c0c0"/>
<rect x="329" y="689" width="1" height="22" fill="#c0c0c0"/>
<rect x="337" y="692" width="1" height="19" fill="#c0c0c0"/>
<rect x="345" y="693" width="1" height="18" fill="#c0c0c0"/>
<rect x="353" y="694" width="1" height="17" fill="#c0c0c0"/>
<rect x="361" y="693" width="1" height="18" fill="#c0c0c0"/>
<rect x="369" y="691" width="1" height="20" fill="#c0c0c0"/>
<rect x="377" y="684" width="1" height="27" fill="#c0c0c0"/>
<rect x="385" y="679" width="1" height="32" fill="#c0c0c0"/>
<rect x="393" y="674" width="1" height="37" fill="#c0c0c0"/>
<rect x="401" y="671" width="1" height="40" fill="#c0c0c0"/>
<rect x="409" y="672" width="1" height="39" fill="#c0c0c0"/>
<rect x="417" y="676" width="1" height="35" fill="#c0c0c0"/>
<rect x="425" y="679" width="1" height="32" fill="#c0c0c0"/>
<rect x="433" y="681" width="1" height="30" fill="#c0c0c0"/>
<rect x="441" y="683" width="1" height="28" fill="#c0c0c0"/>
<rect x="449" y="688" width="1" height="23" fill="#c0c0c0"/>
<rect x="457" y="690" width="1" height="21" fill="#c0c0c0"/>
<rect x="465" y="691" width="1" height="20" fill="#c0c0c0"/>
<rect x="473" y="692" width="1" height="19" fill="#c0c0c0"/>
<rect x="481" y="694" width="1" height="17" fill="#c0c0c0"/>
<rect x="489" y="694" width="1" height="17" fill="#c0c0c0"/>
<rect x="497" y="694" width="1" height="17" fill="#c0c0c0"/>
<rect x="505" y="692" width="1" height="19" fill="#c0c0c0"/>
<rect x="513" y="694" width="1" height="17" fill="#c0c0c0"/>
<rect x="521" y="694" width="1" height="17" fill="#c0c0c0"/>
<rect x="529" y="695" width="1" height="16" fill="#c0c0c0"/>
<rect x="537" y="700" width="1" height="11" fill="#c0c0c0"/>
<rect x="545" y="707" width="1" height="4" fill="#c0c0c0"/>
<rect x="553" y="710" width="1" height="7" fill="#c0c0c0"/>
<rect x="561" y="710" width="1" height="16" fill="#c0c0c0"/>
<rect x="569" y="710" width="1" height="25" fill="#c0c0c0"/>
<rect x="577" y="710" width="1" height="32" fill="#c0c0c0"/>
<rect x="585" y="710" width="1" height="34" fill="#c0c0c0"/>
<rect x="593" y="710" width="1" height="33" fill="#c0c0c0"/>
<rect x="601" y="710" width="1" height="29" fill="#c0c0c0"/>
<rect x="609" y="710" width="1" height="25" fill="#c0c0c0"/>
<rect x="617" y="710" width="1" height="23" fill="#c0c0c0"/>
<rect x="625" y="710" width="1" height="21" fill="#c0c0c0"/>
<rect x="633" y="710" width="1" height="18" fill="#c0c0c0"/>
<rect x="641" y="710" width="1" height="17" fill="#c0c0c0"/>
<rect x="649" y="710" width="1" height="17" fill="#c0c0c0"/>
<rect x="657" y="710" width="1" height="15" fill="#c0c0c0"/>
<rect x="665" y="710" width="1" height="10" fill="#c0c0c0"/>
<rect x="673" y="710" width="1" height="6" fill="#c0c0c0"/>
<rect x="681" y="710" width="1" height="4" fill="#c0c0c0"/>
<rect x="689" y="710" width="1" height="4" fill="#c0c0c0"/>
<rect x="697" y="710" width="1" height="5" fill="#c0c0c0"/>
<rect x="705" y="710" width="1" height="9" fill="#c0c0c0"/>
<rect x="713" y="710" width="1" height="13" fill="#c0c0c0"/>
<rect x="721" y="710" width="1" height="15" fill="#c0c0c0"/>
<rect x="729" y="710" width="1" height="17" fill="#c0c0c0"/>
<rect x="737" y="710" width="1" height="19" fill="#c0c0c0"/>
<rect x="745" y="710" width="1" height="18" fill="#c0c0c0"/>
<rect x="753" y="710" width="1" height="18" fill="#c0c0c0"/>
<rect x="761" y="710" width="1" height="16" fill="#c0c0c0"/>
<rect x="769" y="710" width="1" height="14" fill="#c0c0c0"/>
<rect x="777" y="710" width="1" height="14" fill="#c0c0c0"/>
<rect x="785" y="710" width="1" height="11" fill="#c0c0c0"/>
<rect x="793" y="710" width="1" height="14" fill="#c0c0c0"/>
<rect x="801" y="710" width="1" height="18" fill="#c0c0c0"/>
<rect x="809" y="710" width="1" height="21" fill="#c0c0c0"/>
<rect x="817" y="710" width="1" height="23" fill="#c0c0c0"/>
<rect x="825" y="710" width="1" height="23" fill="#c0c0c0"/>
<rect x="833" y="710" width="1" height="17" fill="#c0c0c0"/>
<rect x="841" y="710" width="1" height="12" fill="#c0c0c0"/>
<rect x="849" y="710" width="1" height="2" fill="#c0c0c0"/>
<rect x="857" y="704" width="1" height="7" fill="#c0c0c0"/>
<rect x="865" y="698" width="1" height="13" fill="#c0c0c0"/>
<rect x="873" y="692" width="1" height="19" fill="#c0c0c0"/>
<rect x="881" y="689" width="1" height="22" fill="#c0c0c0"/>
<rect x="889" y="687" width="1" height="24" fill="#c0c0c0"/>
<rect x="897" y="686" width="1" height="25" fill="#c0c0c0"/>
<rect x="905" y="687" width="1" height="24" fill="#c0c0c0"/>
<rect x="913" y="686" width="1" height="25" fill="#c0c0c0"/>
<rect x="921" y="683" width="1" height="28" fill="#c0c0c0"/>
<rect x="929" y="682" width="1" height="29" fill="#c0c0c0"/>
<rect x="937" y="680" width="1" height="31" fill="#c0c0c0"/>
<rect x="945" y="682" width="1" height="29" fill="#c0c0c0"/>
<rect x="953" y="682" width="1" height="29" fill="#c0c0c0"/>
<rect x="961" y="682" width="1" height="29" fill="#c0c0c0"/>
<rect x="969" y="684" width="1" height="27" fill="#c0c0c0"/>
<rect x="977" y="683" width="1" height="28" fill="#c0c0c0"/>
<rect x="985" y="681" width="1" height="30" fill="#c0c0c0"/>
<rect x="993" y="680" width="1" height="31" fill="#c0c0c0"/>
<rect x="1001" y="678" width="1" height="33" fill="#c0c0c0"/>
<rect x="1009" y="677" width="1" height="34" fill="#c0c0c0"/>
<rect x="1017" y="678" width="1" height="33" fill="#c0c0c0"/>
<rect x="1025" y="679" width="1" height="32" fill="#c0c0c0"/>
<rect x="1033" y="679" width="1" height="32" fill="#c0c0c0"/>
<rect x="1041" y="677" width="1" height="34" fill="#c0c0c0"/>
<rect x="1049" y="675" width="1" height="36" fill="#c0c0c0"/>
<rect x="1057" y="674" width="1" height="37" fill="#c0c0c0"/>
<rect x="1065" y="674" width="1" height="37" fill="#c0c0c0"/>
<rect x="1073" y="676" width="1" height="35" fill="#c0c0c0"/>
<rect x="1081" y="675" width="1" height="36" fill="#c0c0c0"/>
<rect x="1089" y="672" width="1" height="39" fill="#c0c0c0"/>
<rect x="1097" y="669" width="1" height="42" fill="#c0c0c0"/>
<rect x="1105" y="667" width="1" height="44" fill="#c0c0c0"/>
<rect x="1113" y="666" width="1" height="45" fill="#c0c0c0"/>
<rect x="1121" y="665" width="1" height="46" fill="#c0c0c0"/>
<rect x="1129" y="664" width="1" height="47" fill="#c0c0c0"/>
<rect x="1137" y="661" width="1" height="50" fill="#c0c0c0"/>
<rect x="1145" y="660" width="1" height="51" fill="#c0c0c0"/>
<rect x="1153" y="659" width="1" height="52" fill="#c0c0c0"/>
<rect x="1161" y="662" width="1" height="49" fill="#c0c0c0"/>
<rect x="1169" y="667" width="1" height="44" fill="#c0c0c0"/>
<rect x="1177" y="668" width="1" height="43" fill="#c0c0c0"/>
<rect x="1185" y="668" width="1" height="43" fill="#c0c0c0"/>
<rect x="1193" y="670" width="1" height="41" fill="#c0c0c0"/>
<rect x="1201" y="672" width="1" height="39" fill="#c0c0c0"/>
<rect x="1209" y="672" width="1" height="39" fill="#c0c0c0"/>
<rect x="1217" y="669" width="1" height="42" fill="#c0c0c0"/>
<rect x="1225" y="665" width="1" height="46" fill="#c0c0c0"/>
<rect x="1233" y="664" width="1" height="47" fill="#c0c0c0"/>
<rect x="1241" y="663" width="1" height="48" fill="#c0c0c0"/>
</g><g clip-path="url(#cd)" shape-rendering="crispEdges">
<polyline points="1.5,683.4 9.5,683.4 17.5,683.4 25.5,683.4 33.5,683.4 41.5,683.4 49.5,683.4 57.5,683.4 65.5,683.0 73.5,683.0 81.5,683.2 89.5,683.4 97.5,683.7 105.5,683.8 113.5,683.4 121.5,682.3 129.5,681.0 137.5,679.6 145.5,678.3 153.5,676.9 161.5,675.2 169.5,673.2 177.5,671.4 185.5,670.1 193.5,669.6 201.5,669.8 209.5,670.1 217.5,670.1 225.5,669.9 233.5,670.3 241.5,671.2 249.5,672.3 257.5,673.6 265.5,675.0 273.5,676.2 281.5,677.4 289.5,679.0 297.5,680.7 305.5,681.9 313.5,682.8 321.5,683.7 329.5,684.7 337.5,685.8 345.5,686.9 353.5,687.9 361.5,688.8 369.5,689.5 377.5,689.5 385.5,689.0 393.5,687.7 401.5,685.7 409.5,683.5 417.5,681.6 425.5,679.9 433.5,678.5 441.5,677.7 449.5,678.1 457.5,679.3 465.5,681.1 473.5,683.4 481.5,685.8 489.5,687.8 497.5,689.4 505.5,690.8 513.5,692.0 521.5,692.6 529.5,693.2 537.5,694.3 545.5,696.0 553.5,698.4 561.5,701.9 569.5,706.4 577.5,711.8 585.5,717.2 593.5,722.5 601.5,727.4 609.5,731.1 617.5,733.9 625.5,735.5 633.5,735.7 641.5,734.7 649.5,733.1 657.5,731.0 665.5,728.4 673.5,725.8 681.5,723.5 689.5,721.4 697.5,719.6 705.5,718.6 713.5,718.1 721.5,718.0 729.5,718.1 737.5,719.2 745.5,720.6 753.5,722.1 761.5,723.5 769.5,724.6 777.5,725.0 785.5,724.9 793.5,724.7 801.5,724.9 809.5,725.1 817.5,725.6 825.5,726.2 833.5,726.2 841.5,725.9 849.5,724.6 857.5,722.8 865.5,720.0 873.5,716.1 881.5,711.5 889.5,706.6 897.5,701.5 905.5,697.2 913.5,693.4 921.5,690.3 929.5,687.9 937.5,685.9 945.5,684.8 953.5,684.0 961.5,683.4 969.5,683.2 977.5,682.7 985.5,682.2 993.5,681.8 1001.5,681.4 1009.5,681.0 1017.5,680.5 1025.5,680.2 1033.5,679.9 1041.5,679.1 1049.5,678.3 1057.5,677.5 1065.5,676.8 1073.5,676.6 1081.5,676.3 1089.5,675.7 1097.5,674.5 1105.5,673.1 1113.5,672.0 1121.5,670.9 1129.5,669.7 1137.5,668.3 1145.5,666.6 1153.5,664.8 1161.5,663.7 1169.5,663.5 1177.5,663.7 1185.5,664.0 1193.5,664.4 1201.5,665.3 1209.5,666.5 1217.5,667.5 1225.5,668.2 1233.5,668.5 1241.5,668.0" fill="none" stroke="#ff0000" stroke-width="1" stroke-dasharray="3,3"/>
</g>
<text transform="translate(1580.8,663) scale(0.91,1)" font-size="10.2" fill="#000" font-weight="normal" text-anchor="start">0.008633</text>
<text transform="translate(1580.8,714) scale(0.91,1)" font-size="10.2" fill="#000" font-weight="normal" text-anchor="start">0.00</text>
<text transform="translate(1580.8,745) scale(0.91,1)" font-size="10.2" fill="#000" font-weight="normal" text-anchor="start">-0.005641</text>
<rect x="1578" y="653" width="2" height="1" fill="#000"/>
<rect x="1578" y="710" width="2" height="1" fill="#000"/>
<rect x="1" y="749" width="1" height="3" fill="#000"/>
<text transform="translate(1,761) scale(0.955,1)" font-size="10" fill="#000" font-weight="normal" text-anchor="start">4 Jul 2020</text>
<rect x="65" y="749" width="1" height="3" fill="#000"/>
<text transform="translate(64.2,761) scale(0.955,1)" font-size="10" fill="#000" font-weight="normal" text-anchor="start">14 Jul 2020</text>
<rect x="129" y="749" width="1" height="3" fill="#000"/>
<text transform="translate(128.2,761) scale(0.955,1)" font-size="10" fill="#000" font-weight="normal" text-anchor="start">23 Jul 2020</text>
<rect x="193" y="749" width="1" height="3" fill="#000"/>
<text transform="translate(192.2,761) scale(0.955,1)" font-size="10" fill="#000" font-weight="normal" text-anchor="start">1 Aug 2020</text>
<rect x="257" y="749" width="1" height="3" fill="#000"/>
<text transform="translate(256.2,761) scale(0.955,1)" font-size="10" fill="#000" font-weight="normal" text-anchor="start">11 Aug 2020</text>
<rect x="321" y="749" width="1" height="3" fill="#000"/>
<text transform="translate(320.2,761) scale(0.955,1)" font-size="10" fill="#000" font-weight="normal" text-anchor="start">20 Aug 2020</text>
<rect x="385" y="749" width="1" height="3" fill="#000"/>
<text transform="translate(384.2,761) scale(0.955,1)" font-size="10" fill="#000" font-weight="normal" text-anchor="start">29 Aug 2020</text>
<rect x="449" y="749" width="1" height="3" fill="#000"/>
<text transform="translate(448.2,761) scale(0.955,1)" font-size="10" fill="#000" font-weight="normal" text-anchor="start">8 Sep 2020</text>
<rect x="513" y="749" width="1" height="3" fill="#000"/>
<text transform="translate(512.2,761) scale(0.955,1)" font-size="10" fill="#000" font-weight="normal" text-anchor="start">17 Sep 2020</text>
<rect x="577" y="749" width="1" height="3" fill="#000"/>
<text transform="translate(576.2,761) scale(0.955,1)" font-size="10" fill="#000" font-weight="normal" text-anchor="start">26 Sep 2020</text>
<rect x="641" y="749" width="1" height="3" fill="#000"/>
<text transform="translate(640.2,761) scale(0.955,1)" font-size="10" fill="#000" font-weight="normal" text-anchor="start">6 Oct 2020</text>
<rect x="705" y="749" width="1" height="3" fill="#000"/>
<text transform="translate(704.2,761) scale(0.955,1)" font-size="10" fill="#000" font-weight="normal" text-anchor="start">15 Oct 2020</text>
<rect x="769" y="749" width="1" height="3" fill="#000"/>
<text transform="translate(768.2,761) scale(0.955,1)" font-size="10" fill="#000" font-weight="normal" text-anchor="start">24 Oct 2020</text>
<rect x="833" y="749" width="1" height="3" fill="#000"/>
<text transform="translate(832.2,761) scale(0.955,1)" font-size="10" fill="#000" font-weight="normal" text-anchor="start">3 Nov 2020</text>
<rect x="897" y="749" width="1" height="3" fill="#000"/>
<text transform="translate(896.2,761) scale(0.955,1)" font-size="10" fill="#000" font-weight="normal" text-anchor="start">12 Nov 2020</text>
<rect x="961" y="749" width="1" height="3" fill="#000"/>
<text transform="translate(960.2,761) scale(0.955,1)" font-size="10" fill="#000" font-weight="normal" text-anchor="start">21 Nov 2020</text>
<rect x="1025" y="749" width="1" height="3" fill="#000"/>
<text transform="translate(1024.2,761) scale(0.955,1)" font-size="10" fill="#000" font-weight="normal" text-anchor="start">1 Dec 2020</text>
<rect x="1089" y="749" width="1" height="3" fill="#000"/>
<text transform="translate(1088.2,761) scale(0.955,1)" font-size="10" fill="#000" font-weight="normal" text-anchor="start">10 Dec 2020</text>
<rect x="1153" y="749" width="1" height="3" fill="#000"/>
<text transform="translate(1152.2,761) scale(0.955,1)" font-size="10" fill="#000" font-weight="normal" text-anchor="start">19 Dec 2020</text>
<rect x="1217" y="749" width="1" height="3" fill="#000"/>
<text transform="translate(1216.2,761) scale(0.955,1)" font-size="10" fill="#000" font-weight="normal" text-anchor="start">30 Dec 2020</text>
<rect x="0" y="769" width="1619" height="1" fill="#d8d8d8"/>
<rect x="0" y="771" width="1619" height="1" fill="#000"/>
<rect x="0" y="772" width="1619" height="18" fill="#f0f0f0"/>
<rect x="0" y="790" width="1619" height="1" fill="#ffffff"/>
<rect x="0" y="791" width="1619" height="4" fill="#e8e8e8"/>
<rect x="205" y="772" width="1" height="19" fill="#ffffff"/>
<rect x="206" y="771" width="104" height="19" fill="#000"/>
<rect x="207" y="771" width="102" height="18" fill="#ffffff"/>
<text x="14.5" y="786" font-size="12" fill="#707084" font-weight="normal" text-anchor="start">EURUSD,Daily</text>
<text x="116" y="786" font-size="12" fill="#707084" font-weight="normal" text-anchor="start">USDCHF,Daily</text>
<text x="321" y="786" font-size="12" fill="#707084" font-weight="normal" text-anchor="start">USDCAD,Daily</text>
<text x="424" y="786" font-size="12" fill="#707084" font-weight="normal" text-anchor="start">USDCNH,Daily</text>
<text x="529" y="786" font-size="12" fill="#707084" font-weight="normal" text-anchor="start">EURUSD,Daily</text>
<text x="634" y="786" font-size="12" fill="#707084" font-weight="normal" text-anchor="start">GBPUSD,H4</text>
<text x="725" y="786" font-size="12" fill="#707084" font-weight="normal" text-anchor="start">XAUUSD,Weekly</text>
<text x="840.5" y="786" font-size="12" fill="#707084" font-weight="normal" text-anchor="start">HK50,H1</text>
<text x="913" y="786" font-size="12" fill="#707084" font-weight="normal" text-anchor="start">UK100,H1</text>
<text x="993" y="786" font-size="12" fill="#707084" font-weight="normal" text-anchor="start">UK100,H1</text>
<text x="1073" y="786" font-size="12" fill="#707084" font-weight="normal" text-anchor="start">GER30,H1</text>
<text x="1152" y="786" font-size="12" fill="#707084" font-weight="normal" text-anchor="start">FRA40,H1</text>
<text x="1228" y="786" font-size="12" fill="#707084" font-weight="normal" text-anchor="start">USOil,Daily</text>
<text x="1312" y="786" font-size="12" fill="#707084" font-weight="normal" text-anchor="start">USDJPY,H1</text>
<text x="1396" y="786" font-size="12" fill="#707084" font-weight="normal" text-anchor="start">DJ30,Daily</text>
<text x="1476.5" y="786" font-size="12" fill="#707084" font-weight="normal" text-anchor="start">CHINA300,H1</text>
<text x="1576.6" y="786" font-size="12" fill="#707084" font-weight="normal" text-anchor="start">US</text>
<text x="217.5" y="786" font-size="12" fill="#000" font-weight="normal" text-anchor="start">AUDUSD,Daily</text>
<rect x="106" y="774" width="1" height="14" fill="#606060"/>
<rect x="414" y="774" width="1" height="14" fill="#606060"/>
<rect x="518" y="774" width="1" height="14" fill="#606060"/>
<rect x="622" y="774" width="1" height="14" fill="#606060"/>
<rect x="714" y="774" width="1" height="14" fill="#606060"/>
<rect x="830" y="774" width="1" height="14" fill="#606060"/>
<rect x="903" y="774" width="1" height="14" fill="#606060"/>
<rect x="982" y="774" width="1" height="14" fill="#606060"/>
<rect x="1063" y="774" width="1" height="14" fill="#606060"/>
<rect x="1142" y="774" width="1" height="14" fill="#606060"/>
<rect x="1219" y="774" width="1" height="14" fill="#606060"/>
<rect x="1303" y="774" width="1" height="14" fill="#606060"/>
<rect x="1387" y="774" width="1" height="14" fill="#606060"/>
<rect x="1467" y="774" width="1" height="14" fill="#606060"/>
<rect x="1566" y="774" width="1" height="14" fill="#606060"/>
<rect x="1589" y="772" width="30" height="19" fill="#f0f0f0"/>
<path d="M1597 777 L1592 780 L1597 783Z" fill="#a0a0a0"/>
<path d="M1611 777 L1616 780 L1611 783Z" fill="#000"/>
</svg></body></html>
